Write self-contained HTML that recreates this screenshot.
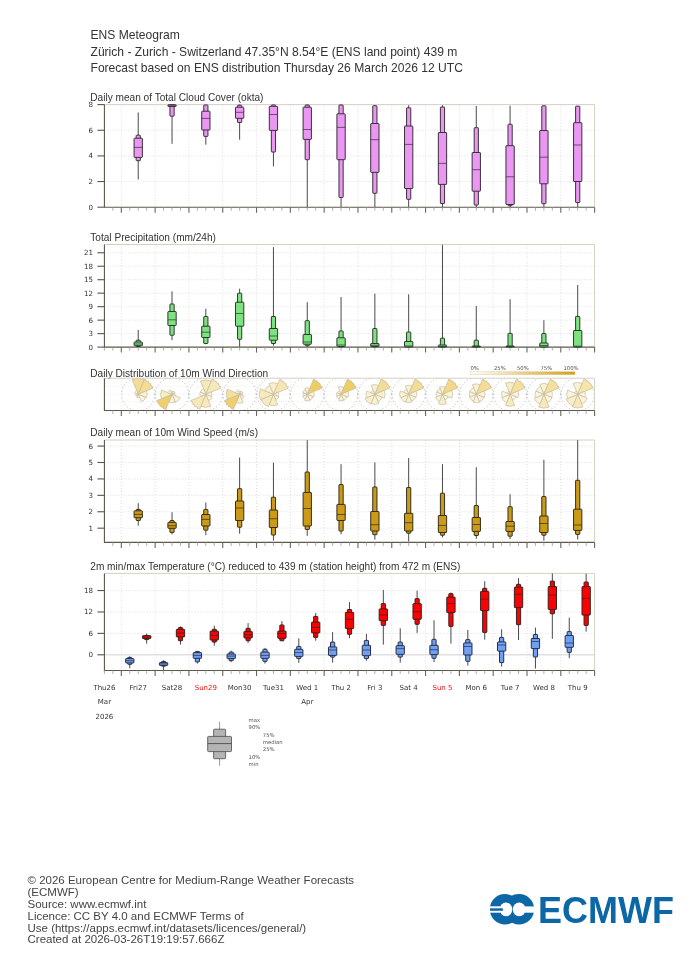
<!DOCTYPE html><html><head><meta charset="utf-8"><title>ENS Meteogram</title><style>
html,body{margin:0;padding:0;background:#fff;}
body{width:700px;height:966px;overflow:hidden;position:relative;}
svg{position:absolute;left:0;top:0;will-change:transform;}
text{font-family:"Liberation Sans", Arial, sans-serif;}
.hd{font-size:12.08px;fill:#333;}
.pt{font-size:10.1px;fill:#333;}
.yl{font-family:"DejaVu Sans",sans-serif;font-size:7.1px;fill:#333;text-anchor:end;}
.xl{font-family:"DejaVu Sans",sans-serif;font-size:7px;fill:#333;text-anchor:middle;}
.red{fill:#ee1111;}
.ft{font-size:11.5px;fill:#444;}
.lg{font-family:"DejaVu Sans",sans-serif;font-size:5.3px;fill:#555;}
.g{stroke:#d4d4d4;stroke-width:0.8;stroke-dasharray:1 2;fill:none;}
.gw{stroke:#e6e6e6;stroke-width:0.8;stroke-dasharray:1 2;fill:none;}
.g0{stroke:#e0e0e0;stroke-width:1.4;fill:none;}
.fr{stroke:#d6d0c4;stroke-width:1;fill:none;}
.ax{stroke:#5f5848;stroke-width:1.1;fill:none;}
.tkM{stroke:#666;stroke-width:1.1;}
.tkm{stroke:#999;stroke-width:0.8;}
.tky{stroke:#555;stroke-width:1.1;}
</style></head><body>
<svg width="700" height="966" viewBox="0 0 700 966">
<text x="90.5" y="39.3" class="hd">ENS Meteogram</text>
<text x="90.5" y="55.7" class="hd">Zürich - Zurich - Switzerland 47.35°N 8.54°E (ENS land point) 439 m</text>
<text x="90.5" y="72.1" class="hd">Forecast based on ENS distribution Thursday 26 March 2026 12 UTC</text>
<text x="90.3" y="100.6" class="pt">Daily mean of Total Cloud Cover (okta)</text>
<line x1="121.32" y1="104.60" x2="121.32" y2="207.20" class="g"/><line x1="155.13" y1="104.60" x2="155.13" y2="207.20" class="g"/><line x1="188.93" y1="104.60" x2="188.93" y2="207.20" class="g"/><line x1="222.74" y1="104.60" x2="222.74" y2="207.20" class="g"/><line x1="256.54" y1="104.60" x2="256.54" y2="207.20" class="g"/><line x1="290.35" y1="104.60" x2="290.35" y2="207.20" class="g"/><line x1="324.16" y1="104.60" x2="324.16" y2="207.20" class="g"/><line x1="357.96" y1="104.60" x2="357.96" y2="207.20" class="g"/><line x1="391.77" y1="104.60" x2="391.77" y2="207.20" class="g"/><line x1="425.57" y1="104.60" x2="425.57" y2="207.20" class="g"/><line x1="459.38" y1="104.60" x2="459.38" y2="207.20" class="g"/><line x1="493.18" y1="104.60" x2="493.18" y2="207.20" class="g"/><line x1="526.99" y1="104.60" x2="526.99" y2="207.20" class="g"/><line x1="560.79" y1="104.60" x2="560.79" y2="207.20" class="g"/>
<line x1="104.42" y1="181.55" x2="594.60" y2="181.55" class="g"/><line x1="104.42" y1="155.90" x2="594.60" y2="155.90" class="g"/><line x1="104.42" y1="130.25" x2="594.60" y2="130.25" class="g"/>
<polyline points="104.42,104.60 594.60,104.60 594.60,207.20" class="fr"/><polyline points="104.42,104.60 104.42,207.20 594.60,207.20" class="ax"/><line x1="112.87" y1="207.20" x2="112.87" y2="210.70" class="tkm"/><line x1="121.32" y1="207.20" x2="121.32" y2="212.70" class="tkM"/><line x1="129.77" y1="207.20" x2="129.77" y2="210.70" class="tkm"/><line x1="138.23" y1="207.20" x2="138.23" y2="210.70" class="tkm"/><line x1="146.68" y1="207.20" x2="146.68" y2="210.70" class="tkm"/><line x1="155.13" y1="207.20" x2="155.13" y2="212.70" class="tkM"/><line x1="163.58" y1="207.20" x2="163.58" y2="210.70" class="tkm"/><line x1="172.03" y1="207.20" x2="172.03" y2="210.70" class="tkm"/><line x1="180.48" y1="207.20" x2="180.48" y2="210.70" class="tkm"/><line x1="188.93" y1="207.20" x2="188.93" y2="212.70" class="tkM"/><line x1="197.39" y1="207.20" x2="197.39" y2="210.70" class="tkm"/><line x1="205.84" y1="207.20" x2="205.84" y2="210.70" class="tkm"/><line x1="214.29" y1="207.20" x2="214.29" y2="210.70" class="tkm"/><line x1="222.74" y1="207.20" x2="222.74" y2="212.70" class="tkM"/><line x1="231.19" y1="207.20" x2="231.19" y2="210.70" class="tkm"/><line x1="239.64" y1="207.20" x2="239.64" y2="210.70" class="tkm"/><line x1="248.09" y1="207.20" x2="248.09" y2="210.70" class="tkm"/><line x1="256.54" y1="207.20" x2="256.54" y2="212.70" class="tkM"/><line x1="265.00" y1="207.20" x2="265.00" y2="210.70" class="tkm"/><line x1="273.45" y1="207.20" x2="273.45" y2="210.70" class="tkm"/><line x1="281.90" y1="207.20" x2="281.90" y2="210.70" class="tkm"/><line x1="290.35" y1="207.20" x2="290.35" y2="212.70" class="tkM"/><line x1="298.80" y1="207.20" x2="298.80" y2="210.70" class="tkm"/><line x1="307.25" y1="207.20" x2="307.25" y2="210.70" class="tkm"/><line x1="315.70" y1="207.20" x2="315.70" y2="210.70" class="tkm"/><line x1="324.16" y1="207.20" x2="324.16" y2="212.70" class="tkM"/><line x1="332.61" y1="207.20" x2="332.61" y2="210.70" class="tkm"/><line x1="341.06" y1="207.20" x2="341.06" y2="210.70" class="tkm"/><line x1="349.51" y1="207.20" x2="349.51" y2="210.70" class="tkm"/><line x1="357.96" y1="207.20" x2="357.96" y2="212.70" class="tkM"/><line x1="366.41" y1="207.20" x2="366.41" y2="210.70" class="tkm"/><line x1="374.86" y1="207.20" x2="374.86" y2="210.70" class="tkm"/><line x1="383.32" y1="207.20" x2="383.32" y2="210.70" class="tkm"/><line x1="391.77" y1="207.20" x2="391.77" y2="212.70" class="tkM"/><line x1="400.22" y1="207.20" x2="400.22" y2="210.70" class="tkm"/><line x1="408.67" y1="207.20" x2="408.67" y2="210.70" class="tkm"/><line x1="417.12" y1="207.20" x2="417.12" y2="210.70" class="tkm"/><line x1="425.57" y1="207.20" x2="425.57" y2="212.70" class="tkM"/><line x1="434.02" y1="207.20" x2="434.02" y2="210.70" class="tkm"/><line x1="442.48" y1="207.20" x2="442.48" y2="210.70" class="tkm"/><line x1="450.93" y1="207.20" x2="450.93" y2="210.70" class="tkm"/><line x1="459.38" y1="207.20" x2="459.38" y2="212.70" class="tkM"/><line x1="467.83" y1="207.20" x2="467.83" y2="210.70" class="tkm"/><line x1="476.28" y1="207.20" x2="476.28" y2="210.70" class="tkm"/><line x1="484.73" y1="207.20" x2="484.73" y2="210.70" class="tkm"/><line x1="493.18" y1="207.20" x2="493.18" y2="212.70" class="tkM"/><line x1="501.63" y1="207.20" x2="501.63" y2="210.70" class="tkm"/><line x1="510.09" y1="207.20" x2="510.09" y2="210.70" class="tkm"/><line x1="518.54" y1="207.20" x2="518.54" y2="210.70" class="tkm"/><line x1="526.99" y1="207.20" x2="526.99" y2="212.70" class="tkM"/><line x1="535.44" y1="207.20" x2="535.44" y2="210.70" class="tkm"/><line x1="543.89" y1="207.20" x2="543.89" y2="210.70" class="tkm"/><line x1="552.34" y1="207.20" x2="552.34" y2="210.70" class="tkm"/><line x1="560.79" y1="207.20" x2="560.79" y2="212.70" class="tkM"/><line x1="569.25" y1="207.20" x2="569.25" y2="210.70" class="tkm"/><line x1="577.70" y1="207.20" x2="577.70" y2="210.70" class="tkm"/><line x1="586.15" y1="207.20" x2="586.15" y2="210.70" class="tkm"/><line x1="594.60" y1="207.20" x2="594.60" y2="212.70" class="tkM"/>
<line x1="97.42" y1="207.20" x2="104.42" y2="207.20" class="tky"/><text x="93.12" y="209.70" class="yl">0</text><line x1="97.42" y1="181.55" x2="104.42" y2="181.55" class="tky"/><text x="93.12" y="184.05" class="yl">2</text><line x1="97.42" y1="155.90" x2="104.42" y2="155.90" class="tky"/><text x="93.12" y="158.40" class="yl">4</text><line x1="97.42" y1="130.25" x2="104.42" y2="130.25" class="tky"/><text x="93.12" y="132.75" class="yl">6</text><line x1="97.42" y1="104.60" x2="104.42" y2="104.60" class="tky"/><text x="93.12" y="107.10" class="yl">8</text>
<line x1="138.23" y1="112.50" x2="138.23" y2="179.50" stroke="#4a4a4a" stroke-width="1"/><rect x="136.13" y="135.20" width="4.20" height="25.50" rx="0.5" fill="#ea96f2" stroke="#3a323a" stroke-width="1"/><rect x="134.08" y="138.20" width="8.30" height="19.20" rx="0.5" fill="#ea96f2" stroke="#3a323a" stroke-width="1"/><line x1="134.08" y1="147.40" x2="142.38" y2="147.40" stroke="#3a323a" stroke-width="1" stroke-opacity="0.72"/>
<line x1="172.03" y1="104.60" x2="172.03" y2="143.80" stroke="#4a4a4a" stroke-width="1"/><rect x="169.93" y="104.80" width="4.20" height="11.40" rx="0.5" fill="#ea96f2" stroke="#3a323a" stroke-width="1"/><rect x="167.88" y="104.80" width="8.30" height="1.70" rx="0.5" fill="#ea96f2" stroke="#3a323a" stroke-width="1"/><line x1="167.88" y1="105.20" x2="176.18" y2="105.20" stroke="#3a323a" stroke-width="1" stroke-opacity="0.72"/>
<line x1="205.84" y1="104.60" x2="205.84" y2="144.70" stroke="#4a4a4a" stroke-width="1"/><rect x="203.74" y="105.00" width="4.20" height="31.40" rx="0.5" fill="#ea96f2" stroke="#3a323a" stroke-width="1"/><rect x="201.69" y="111.20" width="8.30" height="18.80" rx="0.5" fill="#ea96f2" stroke="#3a323a" stroke-width="1"/><line x1="201.69" y1="118.40" x2="209.99" y2="118.40" stroke="#3a323a" stroke-width="1" stroke-opacity="0.72"/>
<line x1="239.64" y1="104.60" x2="239.64" y2="139.70" stroke="#4a4a4a" stroke-width="1"/><rect x="237.54" y="105.20" width="4.20" height="17.30" rx="0.5" fill="#ea96f2" stroke="#3a323a" stroke-width="1"/><rect x="235.49" y="107.20" width="8.30" height="11.10" rx="0.5" fill="#ea96f2" stroke="#3a323a" stroke-width="1"/><line x1="235.49" y1="112.30" x2="243.79" y2="112.30" stroke="#3a323a" stroke-width="1" stroke-opacity="0.72"/>
<line x1="273.45" y1="104.60" x2="273.45" y2="166.40" stroke="#4a4a4a" stroke-width="1"/><rect x="271.35" y="105.00" width="4.20" height="47.00" rx="0.5" fill="#ea96f2" stroke="#3a323a" stroke-width="1"/><rect x="269.30" y="106.30" width="8.30" height="24.10" rx="0.5" fill="#ea96f2" stroke="#3a323a" stroke-width="1"/><line x1="269.30" y1="114.50" x2="277.60" y2="114.50" stroke="#3a323a" stroke-width="1" stroke-opacity="0.72"/>
<line x1="307.25" y1="104.60" x2="307.25" y2="207.00" stroke="#4a4a4a" stroke-width="1"/><rect x="305.15" y="105.00" width="4.20" height="54.70" rx="0.5" fill="#ea96f2" stroke="#3a323a" stroke-width="1"/><rect x="303.10" y="107.20" width="8.30" height="32.20" rx="0.5" fill="#ea96f2" stroke="#3a323a" stroke-width="1"/><line x1="303.10" y1="129.50" x2="311.40" y2="129.50" stroke="#3a323a" stroke-width="1" stroke-opacity="0.72"/>
<line x1="341.06" y1="104.60" x2="341.06" y2="207.00" stroke="#4a4a4a" stroke-width="1"/><rect x="338.96" y="105.00" width="4.20" height="92.50" rx="0.5" fill="#ea96f2" stroke="#3a323a" stroke-width="1"/><rect x="336.91" y="113.80" width="8.30" height="45.90" rx="0.5" fill="#ea96f2" stroke="#3a323a" stroke-width="1"/><line x1="336.91" y1="127.40" x2="345.21" y2="127.40" stroke="#3a323a" stroke-width="1" stroke-opacity="0.72"/>
<line x1="374.86" y1="105.70" x2="374.86" y2="207.00" stroke="#4a4a4a" stroke-width="1"/><rect x="372.76" y="105.70" width="4.20" height="87.60" rx="0.5" fill="#ea96f2" stroke="#3a323a" stroke-width="1"/><rect x="370.71" y="123.50" width="8.30" height="48.90" rx="0.5" fill="#ea96f2" stroke="#3a323a" stroke-width="1"/><line x1="370.71" y1="139.70" x2="379.01" y2="139.70" stroke="#3a323a" stroke-width="1" stroke-opacity="0.72"/>
<line x1="408.67" y1="105.20" x2="408.67" y2="207.00" stroke="#4a4a4a" stroke-width="1"/><rect x="406.57" y="107.80" width="4.20" height="91.50" rx="0.5" fill="#ea96f2" stroke="#3a323a" stroke-width="1"/><rect x="404.52" y="126.00" width="8.30" height="62.50" rx="0.5" fill="#ea96f2" stroke="#3a323a" stroke-width="1"/><line x1="404.52" y1="144.40" x2="412.82" y2="144.40" stroke="#3a323a" stroke-width="1" stroke-opacity="0.72"/>
<line x1="442.48" y1="105.20" x2="442.48" y2="207.00" stroke="#4a4a4a" stroke-width="1"/><rect x="440.38" y="107.00" width="4.20" height="96.50" rx="0.5" fill="#ea96f2" stroke="#3a323a" stroke-width="1"/><rect x="438.33" y="132.50" width="8.30" height="51.90" rx="0.5" fill="#ea96f2" stroke="#3a323a" stroke-width="1"/><line x1="438.33" y1="163.40" x2="446.63" y2="163.40" stroke="#3a323a" stroke-width="1" stroke-opacity="0.72"/>
<line x1="476.28" y1="106.00" x2="476.28" y2="207.00" stroke="#4a4a4a" stroke-width="1"/><rect x="474.18" y="127.70" width="4.20" height="77.30" rx="0.5" fill="#ea96f2" stroke="#3a323a" stroke-width="1"/><rect x="472.13" y="152.50" width="8.30" height="38.70" rx="0.5" fill="#ea96f2" stroke="#3a323a" stroke-width="1"/><line x1="472.13" y1="169.70" x2="480.43" y2="169.70" stroke="#3a323a" stroke-width="1" stroke-opacity="0.72"/>
<line x1="510.09" y1="105.70" x2="510.09" y2="207.00" stroke="#4a4a4a" stroke-width="1"/><rect x="507.99" y="124.30" width="4.20" height="81.40" rx="0.5" fill="#ea96f2" stroke="#3a323a" stroke-width="1"/><rect x="505.94" y="145.70" width="8.30" height="58.80" rx="0.5" fill="#ea96f2" stroke="#3a323a" stroke-width="1"/><line x1="505.94" y1="176.80" x2="514.24" y2="176.80" stroke="#3a323a" stroke-width="1" stroke-opacity="0.72"/>
<line x1="543.89" y1="105.80" x2="543.89" y2="207.00" stroke="#4a4a4a" stroke-width="1"/><rect x="541.79" y="105.80" width="4.20" height="97.90" rx="0.5" fill="#ea96f2" stroke="#3a323a" stroke-width="1"/><rect x="539.74" y="130.50" width="8.30" height="53.30" rx="0.5" fill="#ea96f2" stroke="#3a323a" stroke-width="1"/><line x1="539.74" y1="157.20" x2="548.04" y2="157.20" stroke="#3a323a" stroke-width="1" stroke-opacity="0.72"/>
<line x1="577.70" y1="106.20" x2="577.70" y2="207.00" stroke="#4a4a4a" stroke-width="1"/><rect x="575.60" y="106.20" width="4.20" height="96.30" rx="0.5" fill="#ea96f2" stroke="#3a323a" stroke-width="1"/><rect x="573.55" y="122.70" width="8.30" height="58.80" rx="0.5" fill="#ea96f2" stroke="#3a323a" stroke-width="1"/><line x1="573.55" y1="145.00" x2="581.85" y2="145.00" stroke="#3a323a" stroke-width="1" stroke-opacity="0.72"/>
<text x="90.3" y="240.8" class="pt">Total Precipitation (mm/24h)</text>
<line x1="121.32" y1="244.50" x2="121.32" y2="347.10" class="g"/><line x1="155.13" y1="244.50" x2="155.13" y2="347.10" class="g"/><line x1="188.93" y1="244.50" x2="188.93" y2="347.10" class="g"/><line x1="222.74" y1="244.50" x2="222.74" y2="347.10" class="g"/><line x1="256.54" y1="244.50" x2="256.54" y2="347.10" class="g"/><line x1="290.35" y1="244.50" x2="290.35" y2="347.10" class="g"/><line x1="324.16" y1="244.50" x2="324.16" y2="347.10" class="g"/><line x1="357.96" y1="244.50" x2="357.96" y2="347.10" class="g"/><line x1="391.77" y1="244.50" x2="391.77" y2="347.10" class="g"/><line x1="425.57" y1="244.50" x2="425.57" y2="347.10" class="g"/><line x1="459.38" y1="244.50" x2="459.38" y2="347.10" class="g"/><line x1="493.18" y1="244.50" x2="493.18" y2="347.10" class="g"/><line x1="526.99" y1="244.50" x2="526.99" y2="347.10" class="g"/><line x1="560.79" y1="244.50" x2="560.79" y2="347.10" class="g"/>
<line x1="104.42" y1="333.62" x2="594.60" y2="333.62" class="g"/><line x1="104.42" y1="320.14" x2="594.60" y2="320.14" class="g"/><line x1="104.42" y1="306.66" x2="594.60" y2="306.66" class="g"/><line x1="104.42" y1="293.18" x2="594.60" y2="293.18" class="g"/><line x1="104.42" y1="279.71" x2="594.60" y2="279.71" class="g"/><line x1="104.42" y1="266.23" x2="594.60" y2="266.23" class="g"/><line x1="104.42" y1="252.75" x2="594.60" y2="252.75" class="g"/>
<polyline points="104.42,244.50 594.60,244.50 594.60,347.10" class="fr"/><polyline points="104.42,244.50 104.42,347.10 594.60,347.10" class="ax"/><line x1="104.42" y1="347.10" x2="104.42" y2="350.60" class="tkm"/><line x1="112.87" y1="347.10" x2="112.87" y2="350.60" class="tkm"/><line x1="121.32" y1="347.10" x2="121.32" y2="352.60" class="tkM"/><line x1="129.77" y1="347.10" x2="129.77" y2="350.60" class="tkm"/><line x1="138.23" y1="347.10" x2="138.23" y2="350.60" class="tkm"/><line x1="146.68" y1="347.10" x2="146.68" y2="350.60" class="tkm"/><line x1="155.13" y1="347.10" x2="155.13" y2="352.60" class="tkM"/><line x1="163.58" y1="347.10" x2="163.58" y2="350.60" class="tkm"/><line x1="172.03" y1="347.10" x2="172.03" y2="350.60" class="tkm"/><line x1="180.48" y1="347.10" x2="180.48" y2="350.60" class="tkm"/><line x1="188.93" y1="347.10" x2="188.93" y2="352.60" class="tkM"/><line x1="197.39" y1="347.10" x2="197.39" y2="350.60" class="tkm"/><line x1="205.84" y1="347.10" x2="205.84" y2="350.60" class="tkm"/><line x1="214.29" y1="347.10" x2="214.29" y2="350.60" class="tkm"/><line x1="222.74" y1="347.10" x2="222.74" y2="352.60" class="tkM"/><line x1="231.19" y1="347.10" x2="231.19" y2="350.60" class="tkm"/><line x1="239.64" y1="347.10" x2="239.64" y2="350.60" class="tkm"/><line x1="248.09" y1="347.10" x2="248.09" y2="350.60" class="tkm"/><line x1="256.54" y1="347.10" x2="256.54" y2="352.60" class="tkM"/><line x1="265.00" y1="347.10" x2="265.00" y2="350.60" class="tkm"/><line x1="273.45" y1="347.10" x2="273.45" y2="350.60" class="tkm"/><line x1="281.90" y1="347.10" x2="281.90" y2="350.60" class="tkm"/><line x1="290.35" y1="347.10" x2="290.35" y2="352.60" class="tkM"/><line x1="298.80" y1="347.10" x2="298.80" y2="350.60" class="tkm"/><line x1="307.25" y1="347.10" x2="307.25" y2="350.60" class="tkm"/><line x1="315.70" y1="347.10" x2="315.70" y2="350.60" class="tkm"/><line x1="324.16" y1="347.10" x2="324.16" y2="352.60" class="tkM"/><line x1="332.61" y1="347.10" x2="332.61" y2="350.60" class="tkm"/><line x1="341.06" y1="347.10" x2="341.06" y2="350.60" class="tkm"/><line x1="349.51" y1="347.10" x2="349.51" y2="350.60" class="tkm"/><line x1="357.96" y1="347.10" x2="357.96" y2="352.60" class="tkM"/><line x1="366.41" y1="347.10" x2="366.41" y2="350.60" class="tkm"/><line x1="374.86" y1="347.10" x2="374.86" y2="350.60" class="tkm"/><line x1="383.32" y1="347.10" x2="383.32" y2="350.60" class="tkm"/><line x1="391.77" y1="347.10" x2="391.77" y2="352.60" class="tkM"/><line x1="400.22" y1="347.10" x2="400.22" y2="350.60" class="tkm"/><line x1="408.67" y1="347.10" x2="408.67" y2="350.60" class="tkm"/><line x1="417.12" y1="347.10" x2="417.12" y2="350.60" class="tkm"/><line x1="425.57" y1="347.10" x2="425.57" y2="352.60" class="tkM"/><line x1="434.02" y1="347.10" x2="434.02" y2="350.60" class="tkm"/><line x1="442.48" y1="347.10" x2="442.48" y2="350.60" class="tkm"/><line x1="450.93" y1="347.10" x2="450.93" y2="350.60" class="tkm"/><line x1="459.38" y1="347.10" x2="459.38" y2="352.60" class="tkM"/><line x1="467.83" y1="347.10" x2="467.83" y2="350.60" class="tkm"/><line x1="476.28" y1="347.10" x2="476.28" y2="350.60" class="tkm"/><line x1="484.73" y1="347.10" x2="484.73" y2="350.60" class="tkm"/><line x1="493.18" y1="347.10" x2="493.18" y2="352.60" class="tkM"/><line x1="501.63" y1="347.10" x2="501.63" y2="350.60" class="tkm"/><line x1="510.09" y1="347.10" x2="510.09" y2="350.60" class="tkm"/><line x1="518.54" y1="347.10" x2="518.54" y2="350.60" class="tkm"/><line x1="526.99" y1="347.10" x2="526.99" y2="352.60" class="tkM"/><line x1="535.44" y1="347.10" x2="535.44" y2="350.60" class="tkm"/><line x1="543.89" y1="347.10" x2="543.89" y2="350.60" class="tkm"/><line x1="552.34" y1="347.10" x2="552.34" y2="350.60" class="tkm"/><line x1="560.79" y1="347.10" x2="560.79" y2="352.60" class="tkM"/><line x1="569.25" y1="347.10" x2="569.25" y2="350.60" class="tkm"/><line x1="577.70" y1="347.10" x2="577.70" y2="350.60" class="tkm"/><line x1="586.15" y1="347.10" x2="586.15" y2="350.60" class="tkm"/><line x1="594.60" y1="347.10" x2="594.60" y2="352.60" class="tkM"/>
<line x1="97.42" y1="347.10" x2="104.42" y2="347.10" class="tky"/><text x="93.12" y="349.60" class="yl">0</text><line x1="97.42" y1="333.62" x2="104.42" y2="333.62" class="tky"/><text x="93.12" y="336.12" class="yl">3</text><line x1="97.42" y1="320.14" x2="104.42" y2="320.14" class="tky"/><text x="93.12" y="322.64" class="yl">6</text><line x1="97.42" y1="306.66" x2="104.42" y2="306.66" class="tky"/><text x="93.12" y="309.16" class="yl">9</text><line x1="97.42" y1="293.18" x2="104.42" y2="293.18" class="tky"/><text x="93.12" y="295.68" class="yl">12</text><line x1="97.42" y1="279.71" x2="104.42" y2="279.71" class="tky"/><text x="93.12" y="282.21" class="yl">15</text><line x1="97.42" y1="266.23" x2="104.42" y2="266.23" class="tky"/><text x="93.12" y="268.73" class="yl">18</text><line x1="97.42" y1="252.75" x2="104.42" y2="252.75" class="tky"/><text x="93.12" y="255.25" class="yl">21</text>
<line x1="138.23" y1="330.00" x2="138.23" y2="346.90" stroke="#4a4a4a" stroke-width="1"/><rect x="136.13" y="340.20" width="4.20" height="6.30" rx="0.5" fill="#7de27f" stroke="#2e3a2e" stroke-width="1"/><rect x="134.08" y="342.00" width="8.30" height="3.70" rx="0.5" fill="#7de27f" stroke="#2e3a2e" stroke-width="1"/><line x1="134.08" y1="344.00" x2="142.38" y2="344.00" stroke="#2e3a2e" stroke-width="1" stroke-opacity="0.72"/>
<line x1="172.03" y1="291.30" x2="172.03" y2="340.20" stroke="#4a4a4a" stroke-width="1"/><rect x="169.93" y="304.00" width="4.20" height="31.20" rx="0.5" fill="#7de27f" stroke="#2e3a2e" stroke-width="1"/><rect x="167.88" y="311.50" width="8.30" height="14.00" rx="0.5" fill="#7de27f" stroke="#2e3a2e" stroke-width="1"/><line x1="167.88" y1="319.80" x2="176.18" y2="319.80" stroke="#2e3a2e" stroke-width="1" stroke-opacity="0.72"/>
<line x1="205.84" y1="308.70" x2="205.84" y2="344.20" stroke="#4a4a4a" stroke-width="1"/><rect x="203.74" y="316.50" width="4.20" height="27.00" rx="0.5" fill="#7de27f" stroke="#2e3a2e" stroke-width="1"/><rect x="201.69" y="326.20" width="8.30" height="11.30" rx="0.5" fill="#7de27f" stroke="#2e3a2e" stroke-width="1"/><line x1="201.69" y1="332.20" x2="209.99" y2="332.20" stroke="#2e3a2e" stroke-width="1" stroke-opacity="0.72"/>
<line x1="239.64" y1="288.70" x2="239.64" y2="346.90" stroke="#4a4a4a" stroke-width="1"/><rect x="237.54" y="293.20" width="4.20" height="46.10" rx="0.5" fill="#7de27f" stroke="#2e3a2e" stroke-width="1"/><rect x="235.49" y="302.20" width="8.30" height="24.00" rx="0.5" fill="#7de27f" stroke="#2e3a2e" stroke-width="1"/><line x1="235.49" y1="313.50" x2="243.79" y2="313.50" stroke="#2e3a2e" stroke-width="1" stroke-opacity="0.72"/>
<line x1="273.45" y1="247.20" x2="273.45" y2="345.70" stroke="#4a4a4a" stroke-width="1"/><rect x="271.35" y="316.50" width="4.20" height="27.00" rx="0.5" fill="#7de27f" stroke="#2e3a2e" stroke-width="1"/><rect x="269.30" y="328.50" width="8.30" height="11.70" rx="0.5" fill="#7de27f" stroke="#2e3a2e" stroke-width="1"/><line x1="269.30" y1="336.00" x2="277.60" y2="336.00" stroke="#2e3a2e" stroke-width="1" stroke-opacity="0.72"/>
<line x1="307.25" y1="302.20" x2="307.25" y2="346.90" stroke="#4a4a4a" stroke-width="1"/><rect x="305.15" y="320.70" width="4.20" height="25.00" rx="0.5" fill="#7de27f" stroke="#2e3a2e" stroke-width="1"/><rect x="303.10" y="334.50" width="8.30" height="9.70" rx="0.5" fill="#7de27f" stroke="#2e3a2e" stroke-width="1"/><line x1="303.10" y1="342.00" x2="311.40" y2="342.00" stroke="#2e3a2e" stroke-width="1" stroke-opacity="0.72"/>
<line x1="341.06" y1="297.00" x2="341.06" y2="346.90" stroke="#4a4a4a" stroke-width="1"/><rect x="338.96" y="331.00" width="4.20" height="15.90" rx="0.5" fill="#7de27f" stroke="#2e3a2e" stroke-width="1"/><rect x="336.91" y="337.80" width="8.30" height="8.70" rx="0.5" fill="#7de27f" stroke="#2e3a2e" stroke-width="1"/><line x1="336.91" y1="345.00" x2="345.21" y2="345.00" stroke="#2e3a2e" stroke-width="1" stroke-opacity="0.72"/>
<line x1="374.86" y1="293.70" x2="374.86" y2="346.90" stroke="#4a4a4a" stroke-width="1"/><rect x="372.76" y="328.50" width="4.20" height="18.40" rx="0.5" fill="#7de27f" stroke="#2e3a2e" stroke-width="1"/><rect x="370.71" y="343.50" width="8.30" height="3.00" rx="0.5" fill="#7de27f" stroke="#2e3a2e" stroke-width="1"/><line x1="370.71" y1="345.30" x2="379.01" y2="345.30" stroke="#2e3a2e" stroke-width="1" stroke-opacity="0.72"/>
<line x1="408.67" y1="294.30" x2="408.67" y2="346.90" stroke="#4a4a4a" stroke-width="1"/><rect x="406.57" y="332.00" width="4.20" height="14.90" rx="0.5" fill="#7de27f" stroke="#2e3a2e" stroke-width="1"/><rect x="404.52" y="341.50" width="8.30" height="5.40" rx="0.5" fill="#7de27f" stroke="#2e3a2e" stroke-width="1"/><line x1="404.52" y1="346.00" x2="412.82" y2="346.00" stroke="#2e3a2e" stroke-width="1" stroke-opacity="0.72"/>
<line x1="442.48" y1="244.80" x2="442.48" y2="346.90" stroke="#4a4a4a" stroke-width="1"/><rect x="440.38" y="338.20" width="4.20" height="8.70" rx="0.5" fill="#7de27f" stroke="#2e3a2e" stroke-width="1"/><rect x="438.33" y="345.00" width="8.30" height="1.90" rx="0.5" fill="#7de27f" stroke="#2e3a2e" stroke-width="1"/><line x1="438.33" y1="346.50" x2="446.63" y2="346.50" stroke="#2e3a2e" stroke-width="1" stroke-opacity="0.72"/>
<line x1="476.28" y1="306.00" x2="476.28" y2="346.90" stroke="#4a4a4a" stroke-width="1"/><rect x="474.18" y="340.20" width="4.20" height="6.70" rx="0.5" fill="#7de27f" stroke="#2e3a2e" stroke-width="1"/><rect x="472.13" y="346.00" width="8.30" height="0.90" rx="0.5" fill="#7de27f" stroke="#2e3a2e" stroke-width="1"/><line x1="472.13" y1="346.60" x2="480.43" y2="346.60" stroke="#2e3a2e" stroke-width="1" stroke-opacity="0.72"/>
<line x1="510.09" y1="299.20" x2="510.09" y2="346.90" stroke="#4a4a4a" stroke-width="1"/><rect x="507.99" y="333.40" width="4.20" height="13.50" rx="0.5" fill="#7de27f" stroke="#2e3a2e" stroke-width="1"/><rect x="505.94" y="346.00" width="8.30" height="0.90" rx="0.5" fill="#7de27f" stroke="#2e3a2e" stroke-width="1"/><line x1="505.94" y1="346.60" x2="514.24" y2="346.60" stroke="#2e3a2e" stroke-width="1" stroke-opacity="0.72"/>
<line x1="543.89" y1="320.20" x2="543.89" y2="346.90" stroke="#4a4a4a" stroke-width="1"/><rect x="541.79" y="333.50" width="4.20" height="13.40" rx="0.5" fill="#7de27f" stroke="#2e3a2e" stroke-width="1"/><rect x="539.74" y="343.00" width="8.30" height="3.90" rx="0.5" fill="#7de27f" stroke="#2e3a2e" stroke-width="1"/><line x1="539.74" y1="345.50" x2="548.04" y2="345.50" stroke="#2e3a2e" stroke-width="1" stroke-opacity="0.72"/>
<line x1="577.70" y1="285.00" x2="577.70" y2="346.90" stroke="#4a4a4a" stroke-width="1"/><rect x="575.60" y="316.40" width="4.20" height="30.50" rx="0.5" fill="#7de27f" stroke="#2e3a2e" stroke-width="1"/><rect x="573.55" y="330.50" width="8.30" height="16.40" rx="0.5" fill="#7de27f" stroke="#2e3a2e" stroke-width="1"/><line x1="573.55" y1="346.20" x2="581.85" y2="346.20" stroke="#2e3a2e" stroke-width="1" stroke-opacity="0.72"/>
<text x="90.3" y="376.6" class="pt">Daily Distribution of 10m Wind Direction</text>
<line x1="121.32" y1="378.20" x2="121.32" y2="410.45" class="gw"/><line x1="155.13" y1="378.20" x2="155.13" y2="410.45" class="gw"/><line x1="188.93" y1="378.20" x2="188.93" y2="410.45" class="gw"/><line x1="222.74" y1="378.20" x2="222.74" y2="410.45" class="gw"/><line x1="256.54" y1="378.20" x2="256.54" y2="410.45" class="gw"/><line x1="290.35" y1="378.20" x2="290.35" y2="410.45" class="gw"/><line x1="324.16" y1="378.20" x2="324.16" y2="410.45" class="gw"/><line x1="357.96" y1="378.20" x2="357.96" y2="410.45" class="gw"/><line x1="391.77" y1="378.20" x2="391.77" y2="410.45" class="gw"/><line x1="425.57" y1="378.20" x2="425.57" y2="410.45" class="gw"/><line x1="459.38" y1="378.20" x2="459.38" y2="410.45" class="gw"/><line x1="493.18" y1="378.20" x2="493.18" y2="410.45" class="gw"/><line x1="526.99" y1="378.20" x2="526.99" y2="410.45" class="gw"/><line x1="560.79" y1="378.20" x2="560.79" y2="410.45" class="gw"/>
<line x1="104.42" y1="386.50" x2="594.60" y2="386.50" class="gw"/><line x1="104.42" y1="394.20" x2="594.60" y2="394.20" class="gw"/><line x1="104.42" y1="401.70" x2="594.60" y2="401.70" class="gw"/>
<defs><clipPath id="wc"><rect x="104.42" y="378.20" width="490.18" height="32.25"/></clipPath>
<linearGradient id="lgd" x1="0" x2="1" y1="0" y2="0"><stop offset="0" stop-color="#ffffff"/><stop offset="1" stop-color="#d6a014"/></linearGradient></defs>
<g clip-path="url(#wc)">
<circle cx="138.23" cy="394.3" r="16.6" fill="none" stroke="#a8a8a8" stroke-width="0.9" stroke-dasharray="1 2.4"/>
<path d="M138.23,394.30 L132.06,379.43 A16.10,16.10 0 0 1 144.39,379.43 Z" fill="#f3dc93" stroke="#c4bba0" stroke-width="0.7" stroke-linejoin="round"/>
<path d="M138.23,394.30 L144.35,379.52 A16.00,16.00 0 0 1 153.01,388.18 Z" fill="#f3dc93" stroke="#c4bba0" stroke-width="0.7" stroke-linejoin="round"/>
<path d="M138.23,394.30 L146.54,390.86 A9.00,9.00 0 0 1 146.54,397.74 Z" fill="#fbf2d6" stroke="#c4bba0" stroke-width="0.7" stroke-linejoin="round"/>
<path d="M138.23,394.30 L145.80,397.44 A8.20,8.20 0 0 1 141.36,401.88 Z" fill="#fbf3db" stroke="#c4bba0" stroke-width="0.7" stroke-linejoin="round"/>
<path d="M138.23,394.30 L139.56,397.53 A3.50,3.50 0 0 1 136.89,397.53 Z" fill="#fcf7e7" stroke="#c4bba0" stroke-width="0.7" stroke-linejoin="round"/>
<path d="M138.23,394.30 L137.27,396.61 A2.50,2.50 0 0 1 135.92,395.26 Z" fill="#fdf9ec" stroke="#c4bba0" stroke-width="0.7" stroke-linejoin="round"/>
<path d="M138.23,394.30 L135.92,395.26 A2.50,2.50 0 0 1 135.92,393.34 Z" fill="#fdf9ec" stroke="#c4bba0" stroke-width="0.7" stroke-linejoin="round"/>
<path d="M138.23,394.30 L134.53,392.77 A4.00,4.00 0 0 1 136.69,390.60 Z" fill="#fcf7e7" stroke="#c4bba0" stroke-width="0.7" stroke-linejoin="round"/>
<circle cx="172.03" cy="394.3" r="16.6" fill="none" stroke="#a8a8a8" stroke-width="0.9" stroke-dasharray="1 2.4"/>
<path d="M172.03,394.30 L170.88,391.53 A3.00,3.00 0 0 1 173.18,391.53 Z" fill="#fdf8e9" stroke="#c4bba0" stroke-width="0.7" stroke-linejoin="round"/>
<path d="M172.03,394.30 L173.37,391.07 A3.50,3.50 0 0 1 175.26,392.96 Z" fill="#fcf7e7" stroke="#c4bba0" stroke-width="0.7" stroke-linejoin="round"/>
<path d="M172.03,394.30 L174.80,393.15 A3.00,3.00 0 0 1 174.80,395.45 Z" fill="#fdf8e9" stroke="#c4bba0" stroke-width="0.7" stroke-linejoin="round"/>
<path d="M172.03,394.30 L180.16,397.67 A8.80,8.80 0 0 1 175.40,402.43 Z" fill="#fbf2d6" stroke="#c4bba0" stroke-width="0.7" stroke-linejoin="round"/>
<path d="M172.03,394.30 L175.25,402.06 A8.40,8.40 0 0 1 168.82,402.06 Z" fill="#fbf2d6" stroke="#c4bba0" stroke-width="0.7" stroke-linejoin="round"/>
<path d="M172.03,394.30 L165.72,409.54 A16.50,16.50 0 0 1 156.79,400.61 Z" fill="#efcf6b" stroke="#c4bba0" stroke-width="0.7" stroke-linejoin="round"/>
<path d="M172.03,394.30 L161.50,398.66 A11.40,11.40 0 0 1 161.50,389.94 Z" fill="#f8ecc3" stroke="#c4bba0" stroke-width="0.7" stroke-linejoin="round"/>
<path d="M172.03,394.30 L167.60,392.46 A4.80,4.80 0 0 1 170.19,389.87 Z" fill="#fcf7e5" stroke="#c4bba0" stroke-width="0.7" stroke-linejoin="round"/>
<circle cx="205.84" cy="394.3" r="16.6" fill="none" stroke="#a8a8a8" stroke-width="0.9" stroke-dasharray="1 2.4"/>
<path d="M205.84,394.30 L200.33,381.00 A14.40,14.40 0 0 1 211.35,381.00 Z" fill="#f7e8b7" stroke="#c4bba0" stroke-width="0.7" stroke-linejoin="round"/>
<path d="M205.84,394.30 L212.07,379.24 A16.30,16.30 0 0 1 220.90,388.06 Z" fill="#f7e8b7" stroke="#c4bba0" stroke-width="0.7" stroke-linejoin="round"/>
<path d="M205.84,394.30 L211.38,392.00 A6.00,6.00 0 0 1 211.38,396.60 Z" fill="#fcf5e0" stroke="#c4bba0" stroke-width="0.7" stroke-linejoin="round"/>
<path d="M205.84,394.30 L212.30,396.98 A7.00,7.00 0 0 1 208.52,400.77 Z" fill="#fbf3db" stroke="#c4bba0" stroke-width="0.7" stroke-linejoin="round"/>
<path d="M205.84,394.30 L210.81,406.31 A13.00,13.00 0 0 1 200.86,406.31 Z" fill="#f8eabe" stroke="#c4bba0" stroke-width="0.7" stroke-linejoin="round"/>
<path d="M205.84,394.30 L199.71,409.08 A16.00,16.00 0 0 1 191.05,400.42 Z" fill="#f7e8b7" stroke="#c4bba0" stroke-width="0.7" stroke-linejoin="round"/>
<path d="M205.84,394.30 L200.29,396.60 A6.00,6.00 0 0 1 200.29,392.00 Z" fill="#fcf5e0" stroke="#c4bba0" stroke-width="0.7" stroke-linejoin="round"/>
<path d="M205.84,394.30 L200.29,392.00 A6.00,6.00 0 0 1 203.54,388.76 Z" fill="#fcf5e0" stroke="#c4bba0" stroke-width="0.7" stroke-linejoin="round"/>
<circle cx="239.64" cy="394.3" r="16.6" fill="none" stroke="#a8a8a8" stroke-width="0.9" stroke-dasharray="1 2.4"/>
<path d="M239.64,394.30 L238.49,391.53 A3.00,3.00 0 0 1 240.79,391.53 Z" fill="#fdf8e9" stroke="#c4bba0" stroke-width="0.7" stroke-linejoin="round"/>
<path d="M239.64,394.30 L240.98,391.07 A3.50,3.50 0 0 1 242.88,392.96 Z" fill="#fcf7e7" stroke="#c4bba0" stroke-width="0.7" stroke-linejoin="round"/>
<path d="M239.64,394.30 L242.41,393.15 A3.00,3.00 0 0 1 242.41,395.45 Z" fill="#fdf8e9" stroke="#c4bba0" stroke-width="0.7" stroke-linejoin="round"/>
<path d="M239.64,394.30 L244.26,396.21 A5.00,5.00 0 0 1 241.56,398.92 Z" fill="#fcf7e5" stroke="#c4bba0" stroke-width="0.7" stroke-linejoin="round"/>
<path d="M239.64,394.30 L243.09,402.61 A9.00,9.00 0 0 1 236.20,402.61 Z" fill="#faf1d4" stroke="#c4bba0" stroke-width="0.7" stroke-linejoin="round"/>
<path d="M239.64,394.30 L233.40,409.36 A16.30,16.30 0 0 1 224.58,400.54 Z" fill="#efcf6b" stroke="#c4bba0" stroke-width="0.7" stroke-linejoin="round"/>
<path d="M239.64,394.30 L227.26,399.43 A13.40,13.40 0 0 1 227.26,389.17 Z" fill="#f5e09f" stroke="#c4bba0" stroke-width="0.7" stroke-linejoin="round"/>
<path d="M239.64,394.30 L235.48,392.58 A4.50,4.50 0 0 1 237.92,390.14 Z" fill="#fcf7e5" stroke="#c4bba0" stroke-width="0.7" stroke-linejoin="round"/>
<circle cx="273.45" cy="394.3" r="16.6" fill="none" stroke="#a8a8a8" stroke-width="0.9" stroke-dasharray="1 2.4"/>
<path d="M273.45,394.30 L269.01,383.58 A11.60,11.60 0 0 1 277.89,383.58 Z" fill="#faefcd" stroke="#c4bba0" stroke-width="0.7" stroke-linejoin="round"/>
<path d="M273.45,394.30 L279.57,379.52 A16.00,16.00 0 0 1 288.23,388.18 Z" fill="#f6e6b0" stroke="#c4bba0" stroke-width="0.7" stroke-linejoin="round"/>
<path d="M273.45,394.30 L278.07,392.39 A5.00,5.00 0 0 1 278.07,396.21 Z" fill="#fcf7e5" stroke="#c4bba0" stroke-width="0.7" stroke-linejoin="round"/>
<path d="M273.45,394.30 L278.99,396.60 A6.00,6.00 0 0 1 275.74,399.84 Z" fill="#fcf5e0" stroke="#c4bba0" stroke-width="0.7" stroke-linejoin="round"/>
<path d="M273.45,394.30 L277.77,404.74 A11.30,11.30 0 0 1 269.12,404.74 Z" fill="#f8ecc3" stroke="#c4bba0" stroke-width="0.7" stroke-linejoin="round"/>
<path d="M273.45,394.30 L268.28,406.77 A13.50,13.50 0 0 1 260.98,399.47 Z" fill="#f8eabe" stroke="#c4bba0" stroke-width="0.7" stroke-linejoin="round"/>
<path d="M273.45,394.30 L260.33,399.73 A14.20,14.20 0 0 1 260.33,388.87 Z" fill="#f8eabe" stroke="#c4bba0" stroke-width="0.7" stroke-linejoin="round"/>
<path d="M273.45,394.30 L264.67,390.66 A9.50,9.50 0 0 1 269.81,385.52 Z" fill="#faf1d4" stroke="#c4bba0" stroke-width="0.7" stroke-linejoin="round"/>
<circle cx="307.25" cy="394.3" r="16.6" fill="none" stroke="#a8a8a8" stroke-width="0.9" stroke-dasharray="1 2.4"/>
<path d="M307.25,394.30 L304.77,388.29 A6.50,6.50 0 0 1 309.74,388.29 Z" fill="#fbf3db" stroke="#c4bba0" stroke-width="0.7" stroke-linejoin="round"/>
<path d="M307.25,394.30 L313.53,379.15 A16.40,16.40 0 0 1 322.40,388.02 Z" fill="#eecd64" stroke="#c4bba0" stroke-width="0.7" stroke-linejoin="round"/>
<path d="M307.25,394.30 L313.72,391.62 A7.00,7.00 0 0 1 313.72,396.98 Z" fill="#fbf3db" stroke="#c4bba0" stroke-width="0.7" stroke-linejoin="round"/>
<path d="M307.25,394.30 L313.26,396.79 A6.50,6.50 0 0 1 309.74,400.31 Z" fill="#fbf3db" stroke="#c4bba0" stroke-width="0.7" stroke-linejoin="round"/>
<path d="M307.25,394.30 L309.74,400.31 A6.50,6.50 0 0 1 304.77,400.31 Z" fill="#fbf3db" stroke="#c4bba0" stroke-width="0.7" stroke-linejoin="round"/>
<path d="M307.25,394.30 L305.34,398.92 A5.00,5.00 0 0 1 302.63,396.21 Z" fill="#fcf6e2" stroke="#c4bba0" stroke-width="0.7" stroke-linejoin="round"/>
<path d="M307.25,394.30 L303.56,395.83 A4.00,4.00 0 0 1 303.56,392.77 Z" fill="#fcf7e5" stroke="#c4bba0" stroke-width="0.7" stroke-linejoin="round"/>
<path d="M307.25,394.30 L302.63,392.39 A5.00,5.00 0 0 1 305.34,389.68 Z" fill="#fcf6e2" stroke="#c4bba0" stroke-width="0.7" stroke-linejoin="round"/>
<circle cx="341.06" cy="394.3" r="16.6" fill="none" stroke="#a8a8a8" stroke-width="0.9" stroke-dasharray="1 2.4"/>
<path d="M341.06,394.30 L338.15,387.28 A7.60,7.60 0 0 1 343.97,387.28 Z" fill="#fbf3d9" stroke="#c4bba0" stroke-width="0.7" stroke-linejoin="round"/>
<path d="M341.06,394.30 L347.33,379.15 A16.40,16.40 0 0 1 356.21,388.02 Z" fill="#eecd64" stroke="#c4bba0" stroke-width="0.7" stroke-linejoin="round"/>
<path d="M341.06,394.30 L347.99,391.43 A7.50,7.50 0 0 1 347.99,397.17 Z" fill="#fbf3db" stroke="#c4bba0" stroke-width="0.7" stroke-linejoin="round"/>
<path d="M341.06,394.30 L347.06,396.79 A6.50,6.50 0 0 1 343.55,400.31 Z" fill="#fbf3db" stroke="#c4bba0" stroke-width="0.7" stroke-linejoin="round"/>
<path d="M341.06,394.30 L343.55,400.31 A6.50,6.50 0 0 1 338.57,400.31 Z" fill="#fbf3db" stroke="#c4bba0" stroke-width="0.7" stroke-linejoin="round"/>
<path d="M341.06,394.30 L339.15,398.92 A5.00,5.00 0 0 1 336.44,396.21 Z" fill="#fcf6e2" stroke="#c4bba0" stroke-width="0.7" stroke-linejoin="round"/>
<path d="M341.06,394.30 L336.90,396.02 A4.50,4.50 0 0 1 336.90,392.58 Z" fill="#fcf7e5" stroke="#c4bba0" stroke-width="0.7" stroke-linejoin="round"/>
<path d="M341.06,394.30 L337.36,392.77 A4.00,4.00 0 0 1 339.53,390.60 Z" fill="#fcf7e5" stroke="#c4bba0" stroke-width="0.7" stroke-linejoin="round"/>
<circle cx="374.86" cy="394.3" r="16.6" fill="none" stroke="#a8a8a8" stroke-width="0.9" stroke-dasharray="1 2.4"/>
<path d="M374.86,394.30 L371.15,385.34 A9.70,9.70 0 0 1 378.58,385.34 Z" fill="#faf1d4" stroke="#c4bba0" stroke-width="0.7" stroke-linejoin="round"/>
<path d="M374.86,394.30 L381.18,379.06 A16.50,16.50 0 0 1 390.11,387.99 Z" fill="#f3dc93" stroke="#c4bba0" stroke-width="0.7" stroke-linejoin="round"/>
<path d="M374.86,394.30 L384.29,390.40 A10.20,10.20 0 0 1 384.29,398.20 Z" fill="#faf1d4" stroke="#c4bba0" stroke-width="0.7" stroke-linejoin="round"/>
<path d="M374.86,394.30 L382.26,397.36 A8.00,8.00 0 0 1 377.93,401.69 Z" fill="#fbf2d6" stroke="#c4bba0" stroke-width="0.7" stroke-linejoin="round"/>
<path d="M374.86,394.30 L378.69,403.54 A10.00,10.00 0 0 1 371.04,403.54 Z" fill="#faf1d4" stroke="#c4bba0" stroke-width="0.7" stroke-linejoin="round"/>
<path d="M374.86,394.30 L370.77,404.19 A10.70,10.70 0 0 1 364.98,398.39 Z" fill="#faefcd" stroke="#c4bba0" stroke-width="0.7" stroke-linejoin="round"/>
<path d="M374.86,394.30 L366.83,397.63 A8.70,8.70 0 0 1 366.83,390.97 Z" fill="#fbf2d6" stroke="#c4bba0" stroke-width="0.7" stroke-linejoin="round"/>
<path d="M374.86,394.30 L370.71,392.58 A4.50,4.50 0 0 1 373.14,390.14 Z" fill="#fcf5e0" stroke="#c4bba0" stroke-width="0.7" stroke-linejoin="round"/>
<circle cx="408.67" cy="394.3" r="16.6" fill="none" stroke="#a8a8a8" stroke-width="0.9" stroke-dasharray="1 2.4"/>
<path d="M408.67,394.30 L405.23,385.99 A9.00,9.00 0 0 1 412.11,385.99 Z" fill="#fbf2d6" stroke="#c4bba0" stroke-width="0.7" stroke-linejoin="round"/>
<path d="M408.67,394.30 L414.95,379.15 A16.40,16.40 0 0 1 423.82,388.02 Z" fill="#f3dc93" stroke="#c4bba0" stroke-width="0.7" stroke-linejoin="round"/>
<path d="M408.67,394.30 L416.06,391.24 A8.00,8.00 0 0 1 416.06,397.36 Z" fill="#fbf3db" stroke="#c4bba0" stroke-width="0.7" stroke-linejoin="round"/>
<path d="M408.67,394.30 L415.60,397.17 A7.50,7.50 0 0 1 411.54,401.23 Z" fill="#fbf3db" stroke="#c4bba0" stroke-width="0.7" stroke-linejoin="round"/>
<path d="M408.67,394.30 L411.85,401.97 A8.30,8.30 0 0 1 405.49,401.97 Z" fill="#fbf2d6" stroke="#c4bba0" stroke-width="0.7" stroke-linejoin="round"/>
<path d="M408.67,394.30 L405.42,402.15 A8.50,8.50 0 0 1 400.82,397.55 Z" fill="#fbf2d6" stroke="#c4bba0" stroke-width="0.7" stroke-linejoin="round"/>
<path d="M408.67,394.30 L400.35,397.74 A9.00,9.00 0 0 1 400.35,390.86 Z" fill="#fbf2d6" stroke="#c4bba0" stroke-width="0.7" stroke-linejoin="round"/>
<path d="M408.67,394.30 L403.59,392.20 A5.50,5.50 0 0 1 406.56,389.22 Z" fill="#fcf5e0" stroke="#c4bba0" stroke-width="0.7" stroke-linejoin="round"/>
<circle cx="442.48" cy="394.3" r="16.6" fill="none" stroke="#a8a8a8" stroke-width="0.9" stroke-dasharray="1 2.4"/>
<path d="M442.48,394.30 L439.53,387.19 A7.70,7.70 0 0 1 445.42,387.19 Z" fill="#fbf2d6" stroke="#c4bba0" stroke-width="0.7" stroke-linejoin="round"/>
<path d="M442.48,394.30 L448.79,379.06 A16.50,16.50 0 0 1 457.72,387.99 Z" fill="#f2d888" stroke="#c4bba0" stroke-width="0.7" stroke-linejoin="round"/>
<path d="M442.48,394.30 L451.90,390.40 A10.20,10.20 0 0 1 451.90,398.20 Z" fill="#fbf2d6" stroke="#c4bba0" stroke-width="0.7" stroke-linejoin="round"/>
<path d="M442.48,394.30 L448.20,396.67 A6.20,6.20 0 0 1 444.85,400.03 Z" fill="#fcf5e0" stroke="#c4bba0" stroke-width="0.7" stroke-linejoin="round"/>
<path d="M442.48,394.30 L446.42,403.82 A10.30,10.30 0 0 1 438.53,403.82 Z" fill="#f9eeca" stroke="#c4bba0" stroke-width="0.7" stroke-linejoin="round"/>
<path d="M442.48,394.30 L439.53,401.41 A7.70,7.70 0 0 1 435.36,397.25 Z" fill="#fbf3db" stroke="#c4bba0" stroke-width="0.7" stroke-linejoin="round"/>
<path d="M442.48,394.30 L436.65,396.71 A6.30,6.30 0 0 1 436.65,391.89 Z" fill="#fbf4de" stroke="#c4bba0" stroke-width="0.7" stroke-linejoin="round"/>
<path d="M442.48,394.30 L436.84,391.97 A6.10,6.10 0 0 1 440.14,388.66 Z" fill="#fbf4de" stroke="#c4bba0" stroke-width="0.7" stroke-linejoin="round"/>
<circle cx="476.28" cy="394.3" r="16.6" fill="none" stroke="#a8a8a8" stroke-width="0.9" stroke-dasharray="1 2.4"/>
<path d="M476.28,394.30 L472.30,384.69 A10.40,10.40 0 0 1 480.26,384.69 Z" fill="#faf0cf" stroke="#c4bba0" stroke-width="0.7" stroke-linejoin="round"/>
<path d="M476.28,394.30 L482.59,379.06 A16.50,16.50 0 0 1 491.52,387.99 Z" fill="#f3dc93" stroke="#c4bba0" stroke-width="0.7" stroke-linejoin="round"/>
<path d="M476.28,394.30 L484.32,390.97 A8.70,8.70 0 0 1 484.32,397.63 Z" fill="#fbf3db" stroke="#c4bba0" stroke-width="0.7" stroke-linejoin="round"/>
<path d="M476.28,394.30 L483.86,397.44 A8.20,8.20 0 0 1 479.42,401.88 Z" fill="#fbf3db" stroke="#c4bba0" stroke-width="0.7" stroke-linejoin="round"/>
<path d="M476.28,394.30 L479.53,402.15 A8.50,8.50 0 0 1 473.03,402.15 Z" fill="#fbf3d9" stroke="#c4bba0" stroke-width="0.7" stroke-linejoin="round"/>
<path d="M476.28,394.30 L473.45,401.14 A7.40,7.40 0 0 1 469.44,397.13 Z" fill="#fbf3db" stroke="#c4bba0" stroke-width="0.7" stroke-linejoin="round"/>
<path d="M476.28,394.30 L469.81,396.98 A7.00,7.00 0 0 1 469.81,391.62 Z" fill="#fbf3db" stroke="#c4bba0" stroke-width="0.7" stroke-linejoin="round"/>
<path d="M476.28,394.30 L469.63,391.54 A7.20,7.20 0 0 1 473.53,387.65 Z" fill="#fbf3db" stroke="#c4bba0" stroke-width="0.7" stroke-linejoin="round"/>
<circle cx="510.09" cy="394.3" r="16.6" fill="none" stroke="#a8a8a8" stroke-width="0.9" stroke-dasharray="1 2.4"/>
<path d="M510.09,394.30 L505.49,383.21 A12.00,12.00 0 0 1 514.68,383.21 Z" fill="#f8ecc3" stroke="#c4bba0" stroke-width="0.7" stroke-linejoin="round"/>
<path d="M510.09,394.30 L516.29,379.33 A16.20,16.20 0 0 1 525.05,388.10 Z" fill="#f4df9b" stroke="#c4bba0" stroke-width="0.7" stroke-linejoin="round"/>
<path d="M510.09,394.30 L517.94,391.05 A8.50,8.50 0 0 1 517.94,397.55 Z" fill="#fcf5e0" stroke="#c4bba0" stroke-width="0.7" stroke-linejoin="round"/>
<path d="M510.09,394.30 L516.18,396.83 A6.60,6.60 0 0 1 512.61,400.40 Z" fill="#fcf6e2" stroke="#c4bba0" stroke-width="0.7" stroke-linejoin="round"/>
<path d="M510.09,394.30 L514.68,405.39 A12.00,12.00 0 0 1 505.49,405.39 Z" fill="#f8eabe" stroke="#c4bba0" stroke-width="0.7" stroke-linejoin="round"/>
<path d="M510.09,394.30 L506.64,402.61 A9.00,9.00 0 0 1 501.77,397.74 Z" fill="#fcf5e0" stroke="#c4bba0" stroke-width="0.7" stroke-linejoin="round"/>
<path d="M510.09,394.30 L502.23,397.55 A8.50,8.50 0 0 1 502.23,391.05 Z" fill="#fcf5e0" stroke="#c4bba0" stroke-width="0.7" stroke-linejoin="round"/>
<path d="M510.09,394.30 L506.85,392.96 A3.50,3.50 0 0 1 508.75,391.07 Z" fill="#fdf8e9" stroke="#c4bba0" stroke-width="0.7" stroke-linejoin="round"/>
<circle cx="543.89" cy="394.3" r="16.6" fill="none" stroke="#a8a8a8" stroke-width="0.9" stroke-dasharray="1 2.4"/>
<path d="M543.89,394.30 L539.76,384.32 A10.80,10.80 0 0 1 548.02,384.32 Z" fill="#fbf2d6" stroke="#c4bba0" stroke-width="0.7" stroke-linejoin="round"/>
<path d="M543.89,394.30 L550.21,379.06 A16.50,16.50 0 0 1 559.14,387.99 Z" fill="#f5e09f" stroke="#c4bba0" stroke-width="0.7" stroke-linejoin="round"/>
<path d="M543.89,394.30 L551.74,391.05 A8.50,8.50 0 0 1 551.74,397.55 Z" fill="#fcf5e0" stroke="#c4bba0" stroke-width="0.7" stroke-linejoin="round"/>
<path d="M543.89,394.30 L552.11,397.71 A8.90,8.90 0 0 1 547.30,402.52 Z" fill="#fcf5e0" stroke="#c4bba0" stroke-width="0.7" stroke-linejoin="round"/>
<path d="M543.89,394.30 L549.17,407.05 A13.80,13.80 0 0 1 538.61,407.05 Z" fill="#f7e8b7" stroke="#c4bba0" stroke-width="0.7" stroke-linejoin="round"/>
<path d="M543.89,394.30 L539.87,404.00 A10.50,10.50 0 0 1 534.19,398.32 Z" fill="#fbf3db" stroke="#c4bba0" stroke-width="0.7" stroke-linejoin="round"/>
<path d="M543.89,394.30 L535.76,397.67 A8.80,8.80 0 0 1 535.76,390.93 Z" fill="#fcf5e0" stroke="#c4bba0" stroke-width="0.7" stroke-linejoin="round"/>
<path d="M543.89,394.30 L536.13,391.09 A8.40,8.40 0 0 1 540.68,386.54 Z" fill="#fcf5e0" stroke="#c4bba0" stroke-width="0.7" stroke-linejoin="round"/>
<circle cx="577.70" cy="394.3" r="16.6" fill="none" stroke="#a8a8a8" stroke-width="0.9" stroke-dasharray="1 2.4"/>
<path d="M577.70,394.30 L573.18,383.40 A11.80,11.80 0 0 1 582.21,383.40 Z" fill="#faf0d2" stroke="#c4bba0" stroke-width="0.7" stroke-linejoin="round"/>
<path d="M577.70,394.30 L584.09,378.87 A16.70,16.70 0 0 1 593.13,387.91 Z" fill="#f6e4ab" stroke="#c4bba0" stroke-width="0.7" stroke-linejoin="round"/>
<path d="M577.70,394.30 L584.81,391.35 A7.70,7.70 0 0 1 584.81,397.25 Z" fill="#fcf5e0" stroke="#c4bba0" stroke-width="0.7" stroke-linejoin="round"/>
<path d="M577.70,394.30 L587.40,398.32 A10.50,10.50 0 0 1 581.72,404.00 Z" fill="#fbf3db" stroke="#c4bba0" stroke-width="0.7" stroke-linejoin="round"/>
<path d="M577.70,394.30 L582.94,406.96 A13.70,13.70 0 0 1 572.45,406.96 Z" fill="#f7e8b7" stroke="#c4bba0" stroke-width="0.7" stroke-linejoin="round"/>
<path d="M577.70,394.30 L572.88,405.94 A12.60,12.60 0 0 1 566.06,399.12 Z" fill="#f9eeca" stroke="#c4bba0" stroke-width="0.7" stroke-linejoin="round"/>
<path d="M577.70,394.30 L567.53,398.51 A11.00,11.00 0 0 1 567.53,390.09 Z" fill="#fbf3db" stroke="#c4bba0" stroke-width="0.7" stroke-linejoin="round"/>
<path d="M577.70,394.30 L574.46,392.96 A3.50,3.50 0 0 1 576.36,391.07 Z" fill="#fdf8e9" stroke="#c4bba0" stroke-width="0.7" stroke-linejoin="round"/>
</g>
<polyline points="104.42,378.20 594.60,378.20 594.60,410.45" class="fr"/><polyline points="104.42,378.20 104.42,410.45 594.60,410.45" class="ax"/><line x1="112.87" y1="410.45" x2="112.87" y2="413.95" class="tkm"/><line x1="121.32" y1="410.45" x2="121.32" y2="415.95" class="tkM"/><line x1="129.77" y1="410.45" x2="129.77" y2="413.95" class="tkm"/><line x1="138.23" y1="410.45" x2="138.23" y2="413.95" class="tkm"/><line x1="146.68" y1="410.45" x2="146.68" y2="413.95" class="tkm"/><line x1="155.13" y1="410.45" x2="155.13" y2="415.95" class="tkM"/><line x1="163.58" y1="410.45" x2="163.58" y2="413.95" class="tkm"/><line x1="172.03" y1="410.45" x2="172.03" y2="413.95" class="tkm"/><line x1="180.48" y1="410.45" x2="180.48" y2="413.95" class="tkm"/><line x1="188.93" y1="410.45" x2="188.93" y2="415.95" class="tkM"/><line x1="197.39" y1="410.45" x2="197.39" y2="413.95" class="tkm"/><line x1="205.84" y1="410.45" x2="205.84" y2="413.95" class="tkm"/><line x1="214.29" y1="410.45" x2="214.29" y2="413.95" class="tkm"/><line x1="222.74" y1="410.45" x2="222.74" y2="415.95" class="tkM"/><line x1="231.19" y1="410.45" x2="231.19" y2="413.95" class="tkm"/><line x1="239.64" y1="410.45" x2="239.64" y2="413.95" class="tkm"/><line x1="248.09" y1="410.45" x2="248.09" y2="413.95" class="tkm"/><line x1="256.54" y1="410.45" x2="256.54" y2="415.95" class="tkM"/><line x1="265.00" y1="410.45" x2="265.00" y2="413.95" class="tkm"/><line x1="273.45" y1="410.45" x2="273.45" y2="413.95" class="tkm"/><line x1="281.90" y1="410.45" x2="281.90" y2="413.95" class="tkm"/><line x1="290.35" y1="410.45" x2="290.35" y2="415.95" class="tkM"/><line x1="298.80" y1="410.45" x2="298.80" y2="413.95" class="tkm"/><line x1="307.25" y1="410.45" x2="307.25" y2="413.95" class="tkm"/><line x1="315.70" y1="410.45" x2="315.70" y2="413.95" class="tkm"/><line x1="324.16" y1="410.45" x2="324.16" y2="415.95" class="tkM"/><line x1="332.61" y1="410.45" x2="332.61" y2="413.95" class="tkm"/><line x1="341.06" y1="410.45" x2="341.06" y2="413.95" class="tkm"/><line x1="349.51" y1="410.45" x2="349.51" y2="413.95" class="tkm"/><line x1="357.96" y1="410.45" x2="357.96" y2="415.95" class="tkM"/><line x1="366.41" y1="410.45" x2="366.41" y2="413.95" class="tkm"/><line x1="374.86" y1="410.45" x2="374.86" y2="413.95" class="tkm"/><line x1="383.32" y1="410.45" x2="383.32" y2="413.95" class="tkm"/><line x1="391.77" y1="410.45" x2="391.77" y2="415.95" class="tkM"/><line x1="400.22" y1="410.45" x2="400.22" y2="413.95" class="tkm"/><line x1="408.67" y1="410.45" x2="408.67" y2="413.95" class="tkm"/><line x1="417.12" y1="410.45" x2="417.12" y2="413.95" class="tkm"/><line x1="425.57" y1="410.45" x2="425.57" y2="415.95" class="tkM"/><line x1="434.02" y1="410.45" x2="434.02" y2="413.95" class="tkm"/><line x1="442.48" y1="410.45" x2="442.48" y2="413.95" class="tkm"/><line x1="450.93" y1="410.45" x2="450.93" y2="413.95" class="tkm"/><line x1="459.38" y1="410.45" x2="459.38" y2="415.95" class="tkM"/><line x1="467.83" y1="410.45" x2="467.83" y2="413.95" class="tkm"/><line x1="476.28" y1="410.45" x2="476.28" y2="413.95" class="tkm"/><line x1="484.73" y1="410.45" x2="484.73" y2="413.95" class="tkm"/><line x1="493.18" y1="410.45" x2="493.18" y2="415.95" class="tkM"/><line x1="501.63" y1="410.45" x2="501.63" y2="413.95" class="tkm"/><line x1="510.09" y1="410.45" x2="510.09" y2="413.95" class="tkm"/><line x1="518.54" y1="410.45" x2="518.54" y2="413.95" class="tkm"/><line x1="526.99" y1="410.45" x2="526.99" y2="415.95" class="tkM"/><line x1="535.44" y1="410.45" x2="535.44" y2="413.95" class="tkm"/><line x1="543.89" y1="410.45" x2="543.89" y2="413.95" class="tkm"/><line x1="552.34" y1="410.45" x2="552.34" y2="413.95" class="tkm"/><line x1="560.79" y1="410.45" x2="560.79" y2="415.95" class="tkM"/><line x1="569.25" y1="410.45" x2="569.25" y2="413.95" class="tkm"/><line x1="577.70" y1="410.45" x2="577.70" y2="413.95" class="tkm"/><line x1="586.15" y1="410.45" x2="586.15" y2="413.95" class="tkm"/><line x1="594.60" y1="410.45" x2="594.60" y2="415.95" class="tkM"/>
<rect x="470.4" y="371.6" width="104.6" height="3.2" fill="url(#lgd)" stroke="#d8cfa8" stroke-width="0.4"/>
<text x="470.4" y="369.6" class="lg">0%</text>
<text x="494" y="369.6" class="lg">25%</text>
<text x="517" y="369.6" class="lg">50%</text>
<text x="540.5" y="369.6" class="lg">75%</text>
<text x="563.5" y="369.6" class="lg">100%</text>
<text x="90.3" y="436.2" class="pt">Daily mean of 10m Wind Speed (m/s)</text>
<line x1="121.32" y1="440.00" x2="121.32" y2="542.40" class="g"/><line x1="155.13" y1="440.00" x2="155.13" y2="542.40" class="g"/><line x1="188.93" y1="440.00" x2="188.93" y2="542.40" class="g"/><line x1="222.74" y1="440.00" x2="222.74" y2="542.40" class="g"/><line x1="256.54" y1="440.00" x2="256.54" y2="542.40" class="g"/><line x1="290.35" y1="440.00" x2="290.35" y2="542.40" class="g"/><line x1="324.16" y1="440.00" x2="324.16" y2="542.40" class="g"/><line x1="357.96" y1="440.00" x2="357.96" y2="542.40" class="g"/><line x1="391.77" y1="440.00" x2="391.77" y2="542.40" class="g"/><line x1="425.57" y1="440.00" x2="425.57" y2="542.40" class="g"/><line x1="459.38" y1="440.00" x2="459.38" y2="542.40" class="g"/><line x1="493.18" y1="440.00" x2="493.18" y2="542.40" class="g"/><line x1="526.99" y1="440.00" x2="526.99" y2="542.40" class="g"/><line x1="560.79" y1="440.00" x2="560.79" y2="542.40" class="g"/>
<line x1="104.42" y1="528.18" x2="594.60" y2="528.18" class="g"/><line x1="104.42" y1="511.76" x2="594.60" y2="511.76" class="g"/><line x1="104.42" y1="495.34" x2="594.60" y2="495.34" class="g"/><line x1="104.42" y1="478.92" x2="594.60" y2="478.92" class="g"/><line x1="104.42" y1="462.50" x2="594.60" y2="462.50" class="g"/><line x1="104.42" y1="446.08" x2="594.60" y2="446.08" class="g"/>
<polyline points="104.42,440.00 594.60,440.00 594.60,542.40" class="fr"/><polyline points="104.42,440.00 104.42,542.40 594.60,542.40" class="ax"/><line x1="112.87" y1="542.40" x2="112.87" y2="545.90" class="tkm"/><line x1="121.32" y1="542.40" x2="121.32" y2="547.90" class="tkM"/><line x1="129.77" y1="542.40" x2="129.77" y2="545.90" class="tkm"/><line x1="138.23" y1="542.40" x2="138.23" y2="545.90" class="tkm"/><line x1="146.68" y1="542.40" x2="146.68" y2="545.90" class="tkm"/><line x1="155.13" y1="542.40" x2="155.13" y2="547.90" class="tkM"/><line x1="163.58" y1="542.40" x2="163.58" y2="545.90" class="tkm"/><line x1="172.03" y1="542.40" x2="172.03" y2="545.90" class="tkm"/><line x1="180.48" y1="542.40" x2="180.48" y2="545.90" class="tkm"/><line x1="188.93" y1="542.40" x2="188.93" y2="547.90" class="tkM"/><line x1="197.39" y1="542.40" x2="197.39" y2="545.90" class="tkm"/><line x1="205.84" y1="542.40" x2="205.84" y2="545.90" class="tkm"/><line x1="214.29" y1="542.40" x2="214.29" y2="545.90" class="tkm"/><line x1="222.74" y1="542.40" x2="222.74" y2="547.90" class="tkM"/><line x1="231.19" y1="542.40" x2="231.19" y2="545.90" class="tkm"/><line x1="239.64" y1="542.40" x2="239.64" y2="545.90" class="tkm"/><line x1="248.09" y1="542.40" x2="248.09" y2="545.90" class="tkm"/><line x1="256.54" y1="542.40" x2="256.54" y2="547.90" class="tkM"/><line x1="265.00" y1="542.40" x2="265.00" y2="545.90" class="tkm"/><line x1="273.45" y1="542.40" x2="273.45" y2="545.90" class="tkm"/><line x1="281.90" y1="542.40" x2="281.90" y2="545.90" class="tkm"/><line x1="290.35" y1="542.40" x2="290.35" y2="547.90" class="tkM"/><line x1="298.80" y1="542.40" x2="298.80" y2="545.90" class="tkm"/><line x1="307.25" y1="542.40" x2="307.25" y2="545.90" class="tkm"/><line x1="315.70" y1="542.40" x2="315.70" y2="545.90" class="tkm"/><line x1="324.16" y1="542.40" x2="324.16" y2="547.90" class="tkM"/><line x1="332.61" y1="542.40" x2="332.61" y2="545.90" class="tkm"/><line x1="341.06" y1="542.40" x2="341.06" y2="545.90" class="tkm"/><line x1="349.51" y1="542.40" x2="349.51" y2="545.90" class="tkm"/><line x1="357.96" y1="542.40" x2="357.96" y2="547.90" class="tkM"/><line x1="366.41" y1="542.40" x2="366.41" y2="545.90" class="tkm"/><line x1="374.86" y1="542.40" x2="374.86" y2="545.90" class="tkm"/><line x1="383.32" y1="542.40" x2="383.32" y2="545.90" class="tkm"/><line x1="391.77" y1="542.40" x2="391.77" y2="547.90" class="tkM"/><line x1="400.22" y1="542.40" x2="400.22" y2="545.90" class="tkm"/><line x1="408.67" y1="542.40" x2="408.67" y2="545.90" class="tkm"/><line x1="417.12" y1="542.40" x2="417.12" y2="545.90" class="tkm"/><line x1="425.57" y1="542.40" x2="425.57" y2="547.90" class="tkM"/><line x1="434.02" y1="542.40" x2="434.02" y2="545.90" class="tkm"/><line x1="442.48" y1="542.40" x2="442.48" y2="545.90" class="tkm"/><line x1="450.93" y1="542.40" x2="450.93" y2="545.90" class="tkm"/><line x1="459.38" y1="542.40" x2="459.38" y2="547.90" class="tkM"/><line x1="467.83" y1="542.40" x2="467.83" y2="545.90" class="tkm"/><line x1="476.28" y1="542.40" x2="476.28" y2="545.90" class="tkm"/><line x1="484.73" y1="542.40" x2="484.73" y2="545.90" class="tkm"/><line x1="493.18" y1="542.40" x2="493.18" y2="547.90" class="tkM"/><line x1="501.63" y1="542.40" x2="501.63" y2="545.90" class="tkm"/><line x1="510.09" y1="542.40" x2="510.09" y2="545.90" class="tkm"/><line x1="518.54" y1="542.40" x2="518.54" y2="545.90" class="tkm"/><line x1="526.99" y1="542.40" x2="526.99" y2="547.90" class="tkM"/><line x1="535.44" y1="542.40" x2="535.44" y2="545.90" class="tkm"/><line x1="543.89" y1="542.40" x2="543.89" y2="545.90" class="tkm"/><line x1="552.34" y1="542.40" x2="552.34" y2="545.90" class="tkm"/><line x1="560.79" y1="542.40" x2="560.79" y2="547.90" class="tkM"/><line x1="569.25" y1="542.40" x2="569.25" y2="545.90" class="tkm"/><line x1="577.70" y1="542.40" x2="577.70" y2="545.90" class="tkm"/><line x1="586.15" y1="542.40" x2="586.15" y2="545.90" class="tkm"/><line x1="594.60" y1="542.40" x2="594.60" y2="547.90" class="tkM"/>
<line x1="97.42" y1="528.18" x2="104.42" y2="528.18" class="tky"/><text x="93.12" y="530.68" class="yl">1</text><line x1="97.42" y1="511.76" x2="104.42" y2="511.76" class="tky"/><text x="93.12" y="514.26" class="yl">2</text><line x1="97.42" y1="495.34" x2="104.42" y2="495.34" class="tky"/><text x="93.12" y="497.84" class="yl">3</text><line x1="97.42" y1="478.92" x2="104.42" y2="478.92" class="tky"/><text x="93.12" y="481.42" class="yl">4</text><line x1="97.42" y1="462.50" x2="104.42" y2="462.50" class="tky"/><text x="93.12" y="465.00" class="yl">5</text><line x1="97.42" y1="446.08" x2="104.42" y2="446.08" class="tky"/><text x="93.12" y="448.58" class="yl">6</text>
<line x1="138.23" y1="503.20" x2="138.23" y2="525.70" stroke="#4a4a4a" stroke-width="1"/><rect x="136.13" y="509.40" width="4.20" height="11.10" rx="0.5" fill="#cc9a16" stroke="#33301f" stroke-width="1"/><rect x="134.08" y="510.80" width="8.30" height="6.90" rx="0.5" fill="#cc9a16" stroke="#33301f" stroke-width="1"/><line x1="134.08" y1="514.40" x2="142.38" y2="514.40" stroke="#33301f" stroke-width="1" stroke-opacity="0.72"/>
<line x1="172.03" y1="512.20" x2="172.03" y2="534.30" stroke="#4a4a4a" stroke-width="1"/><rect x="169.93" y="520.50" width="4.20" height="12.00" rx="0.5" fill="#cc9a16" stroke="#33301f" stroke-width="1"/><rect x="167.88" y="522.40" width="8.30" height="5.90" rx="0.5" fill="#cc9a16" stroke="#33301f" stroke-width="1"/><line x1="167.88" y1="525.70" x2="176.18" y2="525.70" stroke="#33301f" stroke-width="1" stroke-opacity="0.72"/>
<line x1="205.84" y1="502.50" x2="205.84" y2="535.20" stroke="#4a4a4a" stroke-width="1"/><rect x="203.74" y="509.50" width="4.20" height="20.70" rx="0.5" fill="#cc9a16" stroke="#33301f" stroke-width="1"/><rect x="201.69" y="514.50" width="8.30" height="11.50" rx="0.5" fill="#cc9a16" stroke="#33301f" stroke-width="1"/><line x1="201.69" y1="519.40" x2="209.99" y2="519.40" stroke="#33301f" stroke-width="1" stroke-opacity="0.72"/>
<line x1="239.64" y1="457.50" x2="239.64" y2="533.70" stroke="#4a4a4a" stroke-width="1"/><rect x="237.54" y="488.70" width="4.20" height="38.50" rx="0.5" fill="#cc9a16" stroke="#33301f" stroke-width="1"/><rect x="235.49" y="501.00" width="8.30" height="19.50" rx="0.5" fill="#cc9a16" stroke="#33301f" stroke-width="1"/><line x1="235.49" y1="508.00" x2="243.79" y2="508.00" stroke="#33301f" stroke-width="1" stroke-opacity="0.72"/>
<line x1="273.45" y1="462.70" x2="273.45" y2="540.70" stroke="#4a4a4a" stroke-width="1"/><rect x="271.35" y="497.20" width="4.20" height="37.80" rx="0.5" fill="#cc9a16" stroke="#33301f" stroke-width="1"/><rect x="269.30" y="510.00" width="8.30" height="17.50" rx="0.5" fill="#cc9a16" stroke="#33301f" stroke-width="1"/><line x1="269.30" y1="518.70" x2="277.60" y2="518.70" stroke="#33301f" stroke-width="1" stroke-opacity="0.72"/>
<line x1="307.25" y1="440.20" x2="307.25" y2="535.80" stroke="#4a4a4a" stroke-width="1"/><rect x="305.15" y="472.00" width="4.20" height="57.50" rx="0.5" fill="#cc9a16" stroke="#33301f" stroke-width="1"/><rect x="303.10" y="492.40" width="8.30" height="33.60" rx="0.5" fill="#cc9a16" stroke="#33301f" stroke-width="1"/><line x1="303.10" y1="508.50" x2="311.40" y2="508.50" stroke="#33301f" stroke-width="1" stroke-opacity="0.72"/>
<line x1="341.06" y1="464.20" x2="341.06" y2="534.30" stroke="#4a4a4a" stroke-width="1"/><rect x="338.96" y="484.50" width="4.20" height="46.50" rx="0.5" fill="#cc9a16" stroke="#33301f" stroke-width="1"/><rect x="336.91" y="504.40" width="8.30" height="16.10" rx="0.5" fill="#cc9a16" stroke="#33301f" stroke-width="1"/><line x1="336.91" y1="514.50" x2="345.21" y2="514.50" stroke="#33301f" stroke-width="1" stroke-opacity="0.72"/>
<line x1="374.86" y1="462.40" x2="374.86" y2="539.70" stroke="#4a4a4a" stroke-width="1"/><rect x="372.76" y="487.00" width="4.20" height="47.70" rx="0.5" fill="#cc9a16" stroke="#33301f" stroke-width="1"/><rect x="370.71" y="511.50" width="8.30" height="19.50" rx="0.5" fill="#cc9a16" stroke="#33301f" stroke-width="1"/><line x1="370.71" y1="524.70" x2="379.01" y2="524.70" stroke="#33301f" stroke-width="1" stroke-opacity="0.72"/>
<line x1="408.67" y1="458.00" x2="408.67" y2="541.50" stroke="#4a4a4a" stroke-width="1"/><rect x="406.57" y="487.50" width="4.20" height="45.70" rx="0.5" fill="#cc9a16" stroke="#33301f" stroke-width="1"/><rect x="404.52" y="513.30" width="8.30" height="17.70" rx="0.5" fill="#cc9a16" stroke="#33301f" stroke-width="1"/><line x1="404.52" y1="522.70" x2="412.82" y2="522.70" stroke="#33301f" stroke-width="1" stroke-opacity="0.72"/>
<line x1="442.48" y1="464.20" x2="442.48" y2="537.40" stroke="#4a4a4a" stroke-width="1"/><rect x="440.38" y="493.20" width="4.20" height="42.00" rx="0.5" fill="#cc9a16" stroke="#33301f" stroke-width="1"/><rect x="438.33" y="515.50" width="8.30" height="17.00" rx="0.5" fill="#cc9a16" stroke="#33301f" stroke-width="1"/><line x1="438.33" y1="525.40" x2="446.63" y2="525.40" stroke="#33301f" stroke-width="1" stroke-opacity="0.72"/>
<line x1="476.28" y1="467.20" x2="476.28" y2="538.80" stroke="#4a4a4a" stroke-width="1"/><rect x="474.18" y="505.50" width="4.20" height="30.00" rx="0.5" fill="#cc9a16" stroke="#33301f" stroke-width="1"/><rect x="472.13" y="517.50" width="8.30" height="13.90" rx="0.5" fill="#cc9a16" stroke="#33301f" stroke-width="1"/><line x1="472.13" y1="524.50" x2="480.43" y2="524.50" stroke="#33301f" stroke-width="1" stroke-opacity="0.72"/>
<line x1="510.09" y1="494.20" x2="510.09" y2="539.20" stroke="#4a4a4a" stroke-width="1"/><rect x="507.99" y="506.70" width="4.20" height="29.50" rx="0.5" fill="#cc9a16" stroke="#33301f" stroke-width="1"/><rect x="505.94" y="521.50" width="8.30" height="9.90" rx="0.5" fill="#cc9a16" stroke="#33301f" stroke-width="1"/><line x1="505.94" y1="526.20" x2="514.24" y2="526.20" stroke="#33301f" stroke-width="1" stroke-opacity="0.72"/>
<line x1="543.89" y1="459.70" x2="543.89" y2="540.70" stroke="#4a4a4a" stroke-width="1"/><rect x="541.79" y="496.50" width="4.20" height="38.70" rx="0.5" fill="#cc9a16" stroke="#33301f" stroke-width="1"/><rect x="539.74" y="516.00" width="8.30" height="16.50" rx="0.5" fill="#cc9a16" stroke="#33301f" stroke-width="1"/><line x1="539.74" y1="523.50" x2="548.04" y2="523.50" stroke="#33301f" stroke-width="1" stroke-opacity="0.72"/>
<line x1="577.70" y1="440.20" x2="577.70" y2="539.40" stroke="#4a4a4a" stroke-width="1"/><rect x="575.60" y="480.30" width="4.20" height="54.10" rx="0.5" fill="#cc9a16" stroke="#33301f" stroke-width="1"/><rect x="573.55" y="509.20" width="8.30" height="21.20" rx="0.5" fill="#cc9a16" stroke="#33301f" stroke-width="1"/><line x1="573.55" y1="525.00" x2="581.85" y2="525.00" stroke="#33301f" stroke-width="1" stroke-opacity="0.72"/>
<text x="90.3" y="569.6" class="pt">2m min/max Temperature (°C) reduced to 439 m (station height) from 472 m (ENS)</text>
<line x1="121.32" y1="573.40" x2="121.32" y2="670.45" class="g"/><line x1="155.13" y1="573.40" x2="155.13" y2="670.45" class="g"/><line x1="188.93" y1="573.40" x2="188.93" y2="670.45" class="g"/><line x1="222.74" y1="573.40" x2="222.74" y2="670.45" class="g"/><line x1="256.54" y1="573.40" x2="256.54" y2="670.45" class="g"/><line x1="290.35" y1="573.40" x2="290.35" y2="670.45" class="g"/><line x1="324.16" y1="573.40" x2="324.16" y2="670.45" class="g"/><line x1="357.96" y1="573.40" x2="357.96" y2="670.45" class="g"/><line x1="391.77" y1="573.40" x2="391.77" y2="670.45" class="g"/><line x1="425.57" y1="573.40" x2="425.57" y2="670.45" class="g"/><line x1="459.38" y1="573.40" x2="459.38" y2="670.45" class="g"/><line x1="493.18" y1="573.40" x2="493.18" y2="670.45" class="g"/><line x1="526.99" y1="573.40" x2="526.99" y2="670.45" class="g"/><line x1="560.79" y1="573.40" x2="560.79" y2="670.45" class="g"/>
<line x1="104.42" y1="654.80" x2="594.60" y2="654.80" class="g0"/><line x1="104.42" y1="633.38" x2="594.60" y2="633.38" class="g"/><line x1="104.42" y1="611.96" x2="594.60" y2="611.96" class="g"/><line x1="104.42" y1="590.54" x2="594.60" y2="590.54" class="g"/>
<polyline points="104.42,573.40 594.60,573.40 594.60,670.45" class="fr"/><polyline points="104.42,573.40 104.42,670.45 594.60,670.45" class="ax"/><line x1="104.42" y1="670.45" x2="104.42" y2="673.95" class="tkm"/><line x1="112.87" y1="670.45" x2="112.87" y2="673.95" class="tkm"/><line x1="121.32" y1="670.45" x2="121.32" y2="675.95" class="tkM"/><line x1="129.77" y1="670.45" x2="129.77" y2="673.95" class="tkm"/><line x1="138.23" y1="670.45" x2="138.23" y2="673.95" class="tkm"/><line x1="146.68" y1="670.45" x2="146.68" y2="673.95" class="tkm"/><line x1="155.13" y1="670.45" x2="155.13" y2="675.95" class="tkM"/><line x1="163.58" y1="670.45" x2="163.58" y2="673.95" class="tkm"/><line x1="172.03" y1="670.45" x2="172.03" y2="673.95" class="tkm"/><line x1="180.48" y1="670.45" x2="180.48" y2="673.95" class="tkm"/><line x1="188.93" y1="670.45" x2="188.93" y2="675.95" class="tkM"/><line x1="197.39" y1="670.45" x2="197.39" y2="673.95" class="tkm"/><line x1="205.84" y1="670.45" x2="205.84" y2="673.95" class="tkm"/><line x1="214.29" y1="670.45" x2="214.29" y2="673.95" class="tkm"/><line x1="222.74" y1="670.45" x2="222.74" y2="675.95" class="tkM"/><line x1="231.19" y1="670.45" x2="231.19" y2="673.95" class="tkm"/><line x1="239.64" y1="670.45" x2="239.64" y2="673.95" class="tkm"/><line x1="248.09" y1="670.45" x2="248.09" y2="673.95" class="tkm"/><line x1="256.54" y1="670.45" x2="256.54" y2="675.95" class="tkM"/><line x1="265.00" y1="670.45" x2="265.00" y2="673.95" class="tkm"/><line x1="273.45" y1="670.45" x2="273.45" y2="673.95" class="tkm"/><line x1="281.90" y1="670.45" x2="281.90" y2="673.95" class="tkm"/><line x1="290.35" y1="670.45" x2="290.35" y2="675.95" class="tkM"/><line x1="298.80" y1="670.45" x2="298.80" y2="673.95" class="tkm"/><line x1="307.25" y1="670.45" x2="307.25" y2="673.95" class="tkm"/><line x1="315.70" y1="670.45" x2="315.70" y2="673.95" class="tkm"/><line x1="324.16" y1="670.45" x2="324.16" y2="675.95" class="tkM"/><line x1="332.61" y1="670.45" x2="332.61" y2="673.95" class="tkm"/><line x1="341.06" y1="670.45" x2="341.06" y2="673.95" class="tkm"/><line x1="349.51" y1="670.45" x2="349.51" y2="673.95" class="tkm"/><line x1="357.96" y1="670.45" x2="357.96" y2="675.95" class="tkM"/><line x1="366.41" y1="670.45" x2="366.41" y2="673.95" class="tkm"/><line x1="374.86" y1="670.45" x2="374.86" y2="673.95" class="tkm"/><line x1="383.32" y1="670.45" x2="383.32" y2="673.95" class="tkm"/><line x1="391.77" y1="670.45" x2="391.77" y2="675.95" class="tkM"/><line x1="400.22" y1="670.45" x2="400.22" y2="673.95" class="tkm"/><line x1="408.67" y1="670.45" x2="408.67" y2="673.95" class="tkm"/><line x1="417.12" y1="670.45" x2="417.12" y2="673.95" class="tkm"/><line x1="425.57" y1="670.45" x2="425.57" y2="675.95" class="tkM"/><line x1="434.02" y1="670.45" x2="434.02" y2="673.95" class="tkm"/><line x1="442.48" y1="670.45" x2="442.48" y2="673.95" class="tkm"/><line x1="450.93" y1="670.45" x2="450.93" y2="673.95" class="tkm"/><line x1="459.38" y1="670.45" x2="459.38" y2="675.95" class="tkM"/><line x1="467.83" y1="670.45" x2="467.83" y2="673.95" class="tkm"/><line x1="476.28" y1="670.45" x2="476.28" y2="673.95" class="tkm"/><line x1="484.73" y1="670.45" x2="484.73" y2="673.95" class="tkm"/><line x1="493.18" y1="670.45" x2="493.18" y2="675.95" class="tkM"/><line x1="501.63" y1="670.45" x2="501.63" y2="673.95" class="tkm"/><line x1="510.09" y1="670.45" x2="510.09" y2="673.95" class="tkm"/><line x1="518.54" y1="670.45" x2="518.54" y2="673.95" class="tkm"/><line x1="526.99" y1="670.45" x2="526.99" y2="675.95" class="tkM"/><line x1="535.44" y1="670.45" x2="535.44" y2="673.95" class="tkm"/><line x1="543.89" y1="670.45" x2="543.89" y2="673.95" class="tkm"/><line x1="552.34" y1="670.45" x2="552.34" y2="673.95" class="tkm"/><line x1="560.79" y1="670.45" x2="560.79" y2="675.95" class="tkM"/><line x1="569.25" y1="670.45" x2="569.25" y2="673.95" class="tkm"/><line x1="577.70" y1="670.45" x2="577.70" y2="673.95" class="tkm"/><line x1="586.15" y1="670.45" x2="586.15" y2="673.95" class="tkm"/><line x1="594.60" y1="670.45" x2="594.60" y2="675.95" class="tkM"/>
<line x1="97.42" y1="654.80" x2="104.42" y2="654.80" class="tky"/><text x="93.12" y="657.30" class="yl">0</text><line x1="97.42" y1="633.38" x2="104.42" y2="633.38" class="tky"/><text x="93.12" y="635.88" class="yl">6</text><line x1="97.42" y1="611.96" x2="104.42" y2="611.96" class="tky"/><text x="93.12" y="614.46" class="yl">12</text><line x1="97.42" y1="590.54" x2="104.42" y2="590.54" class="tky"/><text x="93.12" y="593.04" class="yl">18</text>
<line x1="129.77" y1="656.40" x2="129.77" y2="668.30" stroke="#4a4a4a" stroke-width="1"/><rect x="127.67" y="657.40" width="4.20" height="6.90" rx="0.5" fill="#6fa0f6" stroke="#2b3040" stroke-width="1"/><rect x="125.62" y="658.60" width="8.30" height="4.30" rx="0.5" fill="#6fa0f6" stroke="#2b3040" stroke-width="1"/><line x1="125.62" y1="660.70" x2="133.92" y2="660.70" stroke="#2b3040" stroke-width="1" stroke-opacity="0.72"/>
<line x1="163.58" y1="660.30" x2="163.58" y2="670.00" stroke="#4a4a4a" stroke-width="1"/><rect x="161.48" y="661.40" width="4.20" height="4.80" rx="0.5" fill="#6fa0f6" stroke="#2b3040" stroke-width="1"/><rect x="159.43" y="662.60" width="8.30" height="2.80" rx="0.5" fill="#6fa0f6" stroke="#2b3040" stroke-width="1"/><line x1="159.43" y1="663.90" x2="167.73" y2="663.90" stroke="#2b3040" stroke-width="1" stroke-opacity="0.72"/>
<line x1="197.39" y1="651.10" x2="197.39" y2="663.60" stroke="#4a4a4a" stroke-width="1"/><rect x="195.29" y="651.40" width="4.20" height="10.50" rx="0.5" fill="#6fa0f6" stroke="#2b3040" stroke-width="1"/><rect x="193.24" y="652.60" width="8.30" height="5.70" rx="0.5" fill="#6fa0f6" stroke="#2b3040" stroke-width="1"/><line x1="193.24" y1="655.40" x2="201.54" y2="655.40" stroke="#2b3040" stroke-width="1" stroke-opacity="0.72"/>
<line x1="231.19" y1="650.70" x2="231.19" y2="662.10" stroke="#4a4a4a" stroke-width="1"/><rect x="229.09" y="652.10" width="4.20" height="8.60" rx="0.5" fill="#6fa0f6" stroke="#2b3040" stroke-width="1"/><rect x="227.04" y="654.00" width="8.30" height="4.60" rx="0.5" fill="#6fa0f6" stroke="#2b3040" stroke-width="1"/><line x1="227.04" y1="656.10" x2="235.34" y2="656.10" stroke="#2b3040" stroke-width="1" stroke-opacity="0.72"/>
<line x1="265.00" y1="647.90" x2="265.00" y2="663.60" stroke="#4a4a4a" stroke-width="1"/><rect x="262.90" y="649.30" width="4.20" height="12.10" rx="0.5" fill="#6fa0f6" stroke="#2b3040" stroke-width="1"/><rect x="260.85" y="652.10" width="8.30" height="6.20" rx="0.5" fill="#6fa0f6" stroke="#2b3040" stroke-width="1"/><line x1="260.85" y1="655.40" x2="269.15" y2="655.40" stroke="#2b3040" stroke-width="1" stroke-opacity="0.72"/>
<line x1="298.80" y1="638.30" x2="298.80" y2="662.90" stroke="#4a4a4a" stroke-width="1"/><rect x="296.70" y="646.40" width="4.20" height="12.20" rx="0.5" fill="#6fa0f6" stroke="#2b3040" stroke-width="1"/><rect x="294.65" y="649.30" width="8.30" height="7.10" rx="0.5" fill="#6fa0f6" stroke="#2b3040" stroke-width="1"/><line x1="294.65" y1="652.60" x2="302.95" y2="652.60" stroke="#2b3040" stroke-width="1" stroke-opacity="0.72"/>
<line x1="332.61" y1="632.10" x2="332.61" y2="662.60" stroke="#4a4a4a" stroke-width="1"/><rect x="330.51" y="642.10" width="4.20" height="15.00" rx="0.5" fill="#6fa0f6" stroke="#2b3040" stroke-width="1"/><rect x="328.46" y="646.90" width="8.30" height="8.50" rx="0.5" fill="#6fa0f6" stroke="#2b3040" stroke-width="1"/><line x1="328.46" y1="650.00" x2="336.76" y2="650.00" stroke="#2b3040" stroke-width="1" stroke-opacity="0.72"/>
<line x1="366.41" y1="634.00" x2="366.41" y2="660.70" stroke="#4a4a4a" stroke-width="1"/><rect x="364.31" y="640.40" width="4.20" height="18.20" rx="0.5" fill="#6fa0f6" stroke="#2b3040" stroke-width="1"/><rect x="362.26" y="645.30" width="8.30" height="10.40" rx="0.5" fill="#6fa0f6" stroke="#2b3040" stroke-width="1"/><line x1="362.26" y1="650.00" x2="370.56" y2="650.00" stroke="#2b3040" stroke-width="1" stroke-opacity="0.72"/>
<line x1="400.22" y1="628.30" x2="400.22" y2="662.60" stroke="#4a4a4a" stroke-width="1"/><rect x="398.12" y="642.10" width="4.20" height="15.00" rx="0.5" fill="#6fa0f6" stroke="#2b3040" stroke-width="1"/><rect x="396.07" y="645.70" width="8.30" height="8.60" rx="0.5" fill="#6fa0f6" stroke="#2b3040" stroke-width="1"/><line x1="396.07" y1="648.60" x2="404.37" y2="648.60" stroke="#2b3040" stroke-width="1" stroke-opacity="0.72"/>
<line x1="434.02" y1="620.30" x2="434.02" y2="662.10" stroke="#4a4a4a" stroke-width="1"/><rect x="431.92" y="639.30" width="4.20" height="19.00" rx="0.5" fill="#6fa0f6" stroke="#2b3040" stroke-width="1"/><rect x="429.87" y="645.30" width="8.30" height="9.30" rx="0.5" fill="#6fa0f6" stroke="#2b3040" stroke-width="1"/><line x1="429.87" y1="649.70" x2="438.17" y2="649.70" stroke="#2b3040" stroke-width="1" stroke-opacity="0.72"/>
<line x1="467.83" y1="630.00" x2="467.83" y2="665.60" stroke="#4a4a4a" stroke-width="1"/><rect x="465.73" y="639.60" width="4.20" height="21.70" rx="0.5" fill="#6fa0f6" stroke="#2b3040" stroke-width="1"/><rect x="463.68" y="642.90" width="8.30" height="12.10" rx="0.5" fill="#6fa0f6" stroke="#2b3040" stroke-width="1"/><line x1="463.68" y1="646.50" x2="471.98" y2="646.50" stroke="#2b3040" stroke-width="1" stroke-opacity="0.72"/>
<line x1="501.63" y1="629.30" x2="501.63" y2="666.70" stroke="#4a4a4a" stroke-width="1"/><rect x="499.53" y="637.40" width="4.20" height="25.20" rx="0.5" fill="#6fa0f6" stroke="#2b3040" stroke-width="1"/><rect x="497.48" y="641.90" width="8.30" height="9.20" rx="0.5" fill="#6fa0f6" stroke="#2b3040" stroke-width="1"/><line x1="497.48" y1="645.00" x2="505.78" y2="645.00" stroke="#2b3040" stroke-width="1" stroke-opacity="0.72"/>
<line x1="535.44" y1="627.60" x2="535.44" y2="668.50" stroke="#4a4a4a" stroke-width="1"/><rect x="533.34" y="634.50" width="4.20" height="22.50" rx="0.5" fill="#6fa0f6" stroke="#2b3040" stroke-width="1"/><rect x="531.29" y="638.50" width="8.30" height="10.10" rx="0.5" fill="#6fa0f6" stroke="#2b3040" stroke-width="1"/><line x1="531.29" y1="641.50" x2="539.59" y2="641.50" stroke="#2b3040" stroke-width="1" stroke-opacity="0.72"/>
<line x1="569.25" y1="617.70" x2="569.25" y2="658.20" stroke="#4a4a4a" stroke-width="1"/><rect x="567.15" y="631.60" width="4.20" height="20.80" rx="0.5" fill="#6fa0f6" stroke="#2b3040" stroke-width="1"/><rect x="565.10" y="635.50" width="8.30" height="11.80" rx="0.5" fill="#6fa0f6" stroke="#2b3040" stroke-width="1"/><line x1="565.10" y1="643.00" x2="573.40" y2="643.00" stroke="#2b3040" stroke-width="1" stroke-opacity="0.72"/>
<line x1="146.68" y1="633.60" x2="146.68" y2="643.60" stroke="#4a4a4a" stroke-width="1"/><rect x="144.58" y="635.40" width="4.20" height="4.20" rx="0.5" fill="#ff0000" stroke="#3a2020" stroke-width="1"/><rect x="142.53" y="635.70" width="8.30" height="2.90" rx="0.5" fill="#ff0000" stroke="#3a2020" stroke-width="1"/><line x1="142.53" y1="637.10" x2="150.83" y2="637.10" stroke="#3a2020" stroke-width="1" stroke-opacity="0.72"/>
<line x1="180.48" y1="626.40" x2="180.48" y2="644.60" stroke="#4a4a4a" stroke-width="1"/><rect x="178.38" y="627.60" width="4.20" height="13.10" rx="0.5" fill="#ff0000" stroke="#3a2020" stroke-width="1"/><rect x="176.33" y="629.30" width="8.30" height="7.60" rx="0.5" fill="#ff0000" stroke="#3a2020" stroke-width="1"/><line x1="176.33" y1="633.10" x2="184.63" y2="633.10" stroke="#3a2020" stroke-width="1" stroke-opacity="0.72"/>
<line x1="214.29" y1="625.70" x2="214.29" y2="645.70" stroke="#4a4a4a" stroke-width="1"/><rect x="212.19" y="629.30" width="4.20" height="12.80" rx="0.5" fill="#ff0000" stroke="#3a2020" stroke-width="1"/><rect x="210.14" y="631.10" width="8.30" height="8.90" rx="0.5" fill="#ff0000" stroke="#3a2020" stroke-width="1"/><line x1="210.14" y1="635.40" x2="218.44" y2="635.40" stroke="#3a2020" stroke-width="1" stroke-opacity="0.72"/>
<line x1="248.09" y1="623.10" x2="248.09" y2="642.90" stroke="#4a4a4a" stroke-width="1"/><rect x="245.99" y="628.30" width="4.20" height="12.40" rx="0.5" fill="#ff0000" stroke="#3a2020" stroke-width="1"/><rect x="243.94" y="631.40" width="8.30" height="6.50" rx="0.5" fill="#ff0000" stroke="#3a2020" stroke-width="1"/><line x1="243.94" y1="635.00" x2="252.24" y2="635.00" stroke="#3a2020" stroke-width="1" stroke-opacity="0.72"/>
<line x1="281.90" y1="621.10" x2="281.90" y2="641.40" stroke="#4a4a4a" stroke-width="1"/><rect x="279.80" y="625.00" width="4.20" height="15.70" rx="0.5" fill="#ff0000" stroke="#3a2020" stroke-width="1"/><rect x="277.75" y="631.10" width="8.30" height="7.20" rx="0.5" fill="#ff0000" stroke="#3a2020" stroke-width="1"/><line x1="277.75" y1="633.60" x2="286.05" y2="633.60" stroke="#3a2020" stroke-width="1" stroke-opacity="0.72"/>
<line x1="315.70" y1="612.90" x2="315.70" y2="640.70" stroke="#4a4a4a" stroke-width="1"/><rect x="313.60" y="616.40" width="4.20" height="21.00" rx="0.5" fill="#ff0000" stroke="#3a2020" stroke-width="1"/><rect x="311.55" y="622.10" width="8.30" height="10.80" rx="0.5" fill="#ff0000" stroke="#3a2020" stroke-width="1"/><line x1="311.55" y1="627.40" x2="319.85" y2="627.40" stroke="#3a2020" stroke-width="1" stroke-opacity="0.72"/>
<line x1="349.51" y1="602.10" x2="349.51" y2="638.20" stroke="#4a4a4a" stroke-width="1"/><rect x="347.41" y="609.50" width="4.20" height="24.80" rx="0.5" fill="#ff0000" stroke="#3a2020" stroke-width="1"/><rect x="345.36" y="612.30" width="8.30" height="16.30" rx="0.5" fill="#ff0000" stroke="#3a2020" stroke-width="1"/><line x1="345.36" y1="619.30" x2="353.66" y2="619.30" stroke="#3a2020" stroke-width="1" stroke-opacity="0.72"/>
<line x1="383.32" y1="590.00" x2="383.32" y2="644.60" stroke="#4a4a4a" stroke-width="1"/><rect x="381.22" y="603.60" width="4.20" height="21.80" rx="0.5" fill="#ff0000" stroke="#3a2020" stroke-width="1"/><rect x="379.17" y="608.90" width="8.30" height="11.80" rx="0.5" fill="#ff0000" stroke="#3a2020" stroke-width="1"/><line x1="379.17" y1="615.00" x2="387.47" y2="615.00" stroke="#3a2020" stroke-width="1" stroke-opacity="0.72"/>
<line x1="417.12" y1="590.70" x2="417.12" y2="632.90" stroke="#4a4a4a" stroke-width="1"/><rect x="415.02" y="598.60" width="4.20" height="25.70" rx="0.5" fill="#ff0000" stroke="#3a2020" stroke-width="1"/><rect x="412.97" y="603.60" width="8.30" height="15.70" rx="0.5" fill="#ff0000" stroke="#3a2020" stroke-width="1"/><line x1="412.97" y1="611.70" x2="421.27" y2="611.70" stroke="#3a2020" stroke-width="1" stroke-opacity="0.72"/>
<line x1="450.93" y1="592.60" x2="450.93" y2="643.60" stroke="#4a4a4a" stroke-width="1"/><rect x="448.83" y="593.60" width="4.20" height="32.80" rx="0.5" fill="#ff0000" stroke="#3a2020" stroke-width="1"/><rect x="446.78" y="597.10" width="8.30" height="15.50" rx="0.5" fill="#ff0000" stroke="#3a2020" stroke-width="1"/><line x1="446.78" y1="603.60" x2="455.08" y2="603.60" stroke="#3a2020" stroke-width="1" stroke-opacity="0.72"/>
<line x1="484.73" y1="581.20" x2="484.73" y2="639.60" stroke="#4a4a4a" stroke-width="1"/><rect x="482.63" y="588.30" width="4.20" height="44.10" rx="0.5" fill="#ff0000" stroke="#3a2020" stroke-width="1"/><rect x="480.58" y="591.40" width="8.30" height="19.20" rx="0.5" fill="#ff0000" stroke="#3a2020" stroke-width="1"/><line x1="480.58" y1="599.10" x2="488.88" y2="599.10" stroke="#3a2020" stroke-width="1" stroke-opacity="0.72"/>
<line x1="518.54" y1="578.10" x2="518.54" y2="640.00" stroke="#4a4a4a" stroke-width="1"/><rect x="516.44" y="584.30" width="4.20" height="40.40" rx="0.5" fill="#ff0000" stroke="#3a2020" stroke-width="1"/><rect x="514.39" y="587.10" width="8.30" height="20.50" rx="0.5" fill="#ff0000" stroke="#3a2020" stroke-width="1"/><line x1="514.39" y1="594.30" x2="522.69" y2="594.30" stroke="#3a2020" stroke-width="1" stroke-opacity="0.72"/>
<line x1="552.34" y1="573.50" x2="552.34" y2="638.80" stroke="#4a4a4a" stroke-width="1"/><rect x="550.24" y="581.10" width="4.20" height="32.70" rx="0.5" fill="#ff0000" stroke="#3a2020" stroke-width="1"/><rect x="548.19" y="586.50" width="8.30" height="22.90" rx="0.5" fill="#ff0000" stroke="#3a2020" stroke-width="1"/><line x1="548.19" y1="595.10" x2="556.49" y2="595.10" stroke="#3a2020" stroke-width="1" stroke-opacity="0.72"/>
<line x1="586.15" y1="573.70" x2="586.15" y2="631.60" stroke="#4a4a4a" stroke-width="1"/><rect x="584.05" y="582.00" width="4.20" height="43.40" rx="0.5" fill="#ff0000" stroke="#3a2020" stroke-width="1"/><rect x="582.00" y="586.60" width="8.30" height="28.50" rx="0.5" fill="#ff0000" stroke="#3a2020" stroke-width="1"/><line x1="582.00" y1="598.40" x2="590.30" y2="598.40" stroke="#3a2020" stroke-width="1" stroke-opacity="0.72"/>
<text x="104.42" y="690" class="xl">Thu26</text>
<text x="138.23" y="690" class="xl">Fri27</text>
<text x="172.03" y="690" class="xl">Sat28</text>
<text x="205.84" y="690" class="xl red">Sun29</text>
<text x="239.64" y="690" class="xl">Mon30</text>
<text x="273.45" y="690" class="xl">Tue31</text>
<text x="307.25" y="690" class="xl">Wed 1</text>
<text x="341.06" y="690" class="xl">Thu 2</text>
<text x="374.86" y="690" class="xl">Fri 3</text>
<text x="408.67" y="690" class="xl">Sat 4</text>
<text x="442.48" y="690" class="xl red">Sun 5</text>
<text x="476.28" y="690" class="xl">Mon 6</text>
<text x="510.09" y="690" class="xl">Tue 7</text>
<text x="543.89" y="690" class="xl">Wed 8</text>
<text x="577.70" y="690" class="xl">Thu 9</text>
<text x="104.42" y="704.2" class="xl">Mar</text>
<text x="307.25" y="704.2" class="xl">Apr</text>
<text x="104.42" y="719" class="xl">2026</text>
<line x1="219.6" y1="721.8" x2="219.6" y2="765.8" stroke="#999" stroke-width="1"/>
<rect x="213.6" y="729.2" width="12" height="29.5" rx="0.8" fill="#b4b4b4" stroke="#5a5a5a" stroke-width="0.9"/>
<rect x="207.7" y="736.4" width="23.8" height="15.2" rx="0.8" fill="#b4b4b4" stroke="#5a5a5a" stroke-width="0.9"/>
<line x1="207.7" y1="743.6" x2="231.5" y2="743.6" stroke="#555" stroke-width="1"/>
<text x="248.6" y="722.2" class="lg">max</text>
<text x="248.6" y="728.5" class="lg">90%</text>
<text x="262.8" y="736.8" class="lg">75%</text>
<text x="262.8" y="744.2" class="lg">median</text>
<text x="262.8" y="750.5" class="lg">25%</text>
<text x="248.6" y="758.8" class="lg">10%</text>
<text x="248.6" y="766.2" class="lg">min</text>
<text x="27.5" y="883.70" class="ft">© 2026 European Centre for Medium-Range Weather Forecasts</text>
<text x="27.5" y="895.65" class="ft">(ECMWF)</text>
<text x="27.5" y="907.60" class="ft">Source: www.ecmwf.int</text>
<text x="27.5" y="919.55" class="ft">Licence: CC BY 4.0 and ECMWF Terms of</text>
<text x="27.5" y="931.50" class="ft">Use (https://apps.ecmwf.int/datasets/licences/general/)</text>
<text x="27.5" y="943.45" class="ft">Created at 2026-03-26T19:19:57.666Z</text>
<g fill="#0c67a6">
<circle cx="505" cy="909.3" r="15.2"/><circle cx="519" cy="909.3" r="15.2"/>
</g>
<ellipse cx="506" cy="909.4" rx="6.3" ry="6.9" fill="#fff"/><ellipse cx="519.2" cy="909.4" rx="6.4" ry="6.9" fill="#fff"/>
<rect x="524" y="906.4" width="12" height="6.3" fill="#fff"/>
<rect x="488" y="906.3" width="12.5" height="6.4" fill="#fff"/>
<rect x="490" y="908.3" width="12.9" height="2.5" fill="#0c67a6"/>
<text x="538.1" y="922.8" textLength="135.8" lengthAdjust="spacingAndGlyphs" style="font-size:37px;font-weight:bold;fill:#0c67a6;">ECMWF</text>
</svg></body></html>
